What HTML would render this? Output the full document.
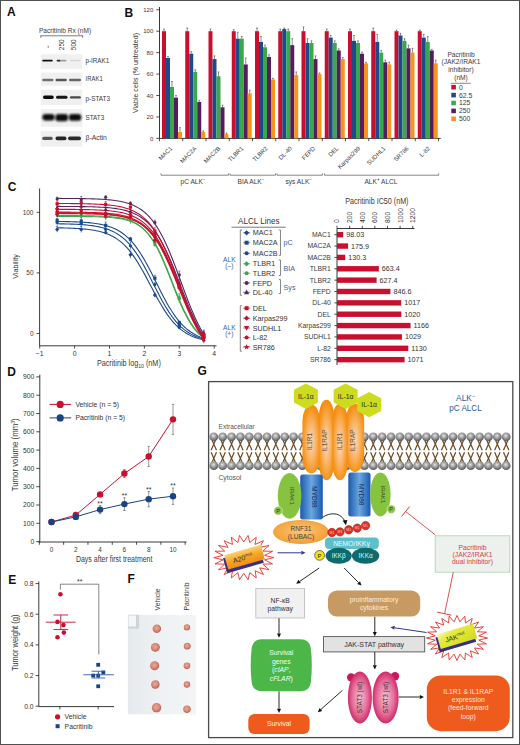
<!DOCTYPE html>
<html><head><meta charset="utf-8"><style>
html,body{margin:0;padding:0;background:#fff;}
svg{display:block;font-family:"Liberation Sans", sans-serif;}
</style></head><body>
<svg width="520" height="745" viewBox="0 0 520 745">
<defs>
<filter id="blur05" x="-20%" y="-20%" width="140%" height="140%"><feGaussianBlur stdDeviation="0.5"/></filter>
<filter id="blur10" x="-30%" y="-60%" width="160%" height="220%"><feGaussianBlur stdDeviation="0.9"/></filter>
<filter id="blur06" x="-50%" y="-100%" width="200%" height="300%"><feGaussianBlur stdDeviation="0.7"/></filter>
<radialGradient id="head" cx="45%" cy="38%" r="62%"><stop offset="0" stop-color="#e4e4e4"/><stop offset="0.45" stop-color="#a0a0a0"/><stop offset="0.85" stop-color="#6a6a6a"/><stop offset="1" stop-color="#555"/></radialGradient>
<radialGradient id="rec" cx="50%" cy="52%" r="58%" fx="50%" fy="55%"><stop offset="0" stop-color="#fcd9b4"/><stop offset="0.45" stop-color="#f9b46a"/><stop offset="0.8" stop-color="#f5961e"/><stop offset="1" stop-color="#f28a0e"/></radialGradient>
<linearGradient id="myd" x1="0" y1="0" x2="1" y2="0"><stop offset="0" stop-color="#1a5ab0"/><stop offset="0.5" stop-color="#6aa6e0"/><stop offset="1" stop-color="#1a5ab0"/></linearGradient>
<radialGradient id="rnf" cx="50%" cy="45%" r="60%"><stop offset="0" stop-color="#fbc77a"/><stop offset="1" stop-color="#f19a2c"/></radialGradient>
<radialGradient id="stat" cx="50%" cy="50%" r="55%"><stop offset="0" stop-color="#f7c2d4"/><stop offset="0.6" stop-color="#e56b98"/><stop offset="1" stop-color="#c8185a"/></radialGradient>
<linearGradient id="a20g" x1="0" y1="0" x2="0" y2="1"><stop offset="0" stop-color="#fbd27a"/><stop offset="0.5" stop-color="#f6a623"/><stop offset="1" stop-color="#ef8f1a"/></linearGradient>
<linearGradient id="jakg" x1="0" y1="0" x2="1" y2="1"><stop offset="0" stop-color="#f6f6d0"/><stop offset="0.3" stop-color="#e6ea3a"/><stop offset="1" stop-color="#d2da20"/></linearGradient>
<linearGradient id="photo" x1="0" y1="0" x2="1" y2="0"><stop offset="0" stop-color="#e6eaec"/><stop offset="0.5" stop-color="#eef2f4"/><stop offset="1" stop-color="#f3f5f6"/></linearGradient>
<radialGradient id="tum" cx="45%" cy="42%" r="60%"><stop offset="0" stop-color="#eaa898"/><stop offset="0.55" stop-color="#d88a7a"/><stop offset="0.85" stop-color="#c0685a"/><stop offset="1" stop-color="#d8b0a8"/></radialGradient>
</defs>
<rect x="0" y="0" width="520" height="745" fill="#fff"/>
<text x="7.00" y="15.90" font-size="12" text-anchor="start" fill="#111" font-weight="bold">A</text>
<text x="38.90" y="33.00" font-size="6.7" text-anchor="start" fill="#3a3a3a" textLength="52.2" lengthAdjust="spacingAndGlyphs">Pacritinib Rx (nM)</text>
<line x1="40.80" y1="35.80" x2="82.70" y2="35.80" stroke="#444" stroke-width="0.7"/>
<line x1="40.80" y1="35.40" x2="40.80" y2="37.80" stroke="#444" stroke-width="0.7"/>
<line x1="82.70" y1="35.40" x2="82.70" y2="37.80" stroke="#444" stroke-width="0.7"/>
<line x1="48.20" y1="45.80" x2="48.20" y2="47.80" stroke="#555" stroke-width="0.8"/>
<text x="64.40" y="44.80" font-size="6.4" text-anchor="middle" fill="#3a3a3a" transform="rotate(-90 64.4 44.8)">250</text>
<text x="75.90" y="44.80" font-size="6.4" text-anchor="middle" fill="#3a3a3a" transform="rotate(-90 75.9 44.8)">500</text>
<rect x="40.80" y="54.20" width="41.50" height="14.70" fill="#f0f0f0" filter="url(#blur05)"/>
<text x="85.50" y="63.40" font-size="6.6" text-anchor="start" fill="#3a3a3a" textLength="23.7" lengthAdjust="spacingAndGlyphs">p-IRAK1</text>
<rect x="40.80" y="72.60" width="41.50" height="13.20" fill="#f0f0f0" filter="url(#blur05)"/>
<text x="85.50" y="80.90" font-size="6.6" text-anchor="start" fill="#3a3a3a" textLength="17.2" lengthAdjust="spacingAndGlyphs">IRAK1</text>
<rect x="40.80" y="89.80" width="41.50" height="15.20" fill="#f0f0f0" filter="url(#blur05)"/>
<text x="85.50" y="100.50" font-size="6.6" text-anchor="start" fill="#3a3a3a" textLength="24.5" lengthAdjust="spacingAndGlyphs">p-STAT3</text>
<rect x="40.80" y="109.20" width="41.50" height="17.60" fill="#f0f0f0" filter="url(#blur05)"/>
<text x="85.50" y="119.50" font-size="6.6" text-anchor="start" fill="#3a3a3a" textLength="18.7" lengthAdjust="spacingAndGlyphs">STAT3</text>
<rect x="40.80" y="131.00" width="41.50" height="15.60" fill="#f0f0f0" filter="url(#blur05)"/>
<text x="85.50" y="139.80" font-size="6.6" text-anchor="start" fill="#3a3a3a" textLength="21.4" lengthAdjust="spacingAndGlyphs">&#946;-Actin</text>
<rect x="42.20" y="59.65" width="10.60" height="1.90" rx="0.95" fill="rgb(16,16,16)" filter="url(#blur06)"/>
<rect x="56.60" y="59.70" width="4.40" height="1.80" rx="0.90" fill="rgb(44,44,44)" filter="url(#blur06)"/>
<rect x="60.00" y="59.80" width="6.60" height="1.60" rx="0.80" fill="rgb(158,158,158)" filter="url(#blur06)"/>
<rect x="69.90" y="59.85" width="10.60" height="1.50" rx="0.75" fill="rgb(215,215,215)" filter="url(#blur06)"/>
<rect x="42.20" y="78.80" width="11.20" height="2.40" rx="1.20" fill="rgb(112,112,112)" filter="url(#blur06)"/>
<rect x="55.50" y="78.75" width="11.30" height="2.50" rx="1.25" fill="rgb(87,87,87)" filter="url(#blur06)"/>
<rect x="69.00" y="78.80" width="12.00" height="2.40" rx="1.20" fill="rgb(101,101,101)" filter="url(#blur06)"/>
<rect x="43.00" y="95.50" width="10.70" height="3.40" rx="1.70" fill="rgb(10,10,10)" filter="url(#blur06)"/>
<rect x="56.00" y="95.70" width="11.50" height="3.00" rx="1.50" fill="rgb(21,21,21)" filter="url(#blur06)"/>
<rect x="69.90" y="96.20" width="11.00" height="2.40" rx="1.20" fill="rgb(73,73,73)" filter="url(#blur06)"/>
<rect x="42.40" y="113.90" width="12.20" height="6.60" rx="3.00" fill="rgb(10,10,10)" filter="url(#blur10)"/>
<rect x="55.40" y="113.90" width="12.60" height="7.40" rx="3.00" fill="rgb(10,10,10)" filter="url(#blur10)"/>
<rect x="68.80" y="113.90" width="12.50" height="6.80" rx="3.00" fill="rgb(10,10,10)" filter="url(#blur10)"/>
<rect x="42.20" y="136.70" width="10.60" height="3.40" rx="1.70" fill="rgb(87,87,87)" filter="url(#blur06)"/>
<rect x="55.50" y="136.60" width="11.00" height="3.60" rx="1.80" fill="rgb(37,37,37)" filter="url(#blur06)"/>
<rect x="68.00" y="136.60" width="13.00" height="3.60" rx="1.80" fill="rgb(44,44,44)" filter="url(#blur06)"/>
<text x="124.40" y="17.20" font-size="12" text-anchor="start" fill="#111" font-weight="bold">B</text>
<line x1="159.50" y1="7.00" x2="159.50" y2="138.40" stroke="#222" stroke-width="0.9"/>
<line x1="156.30" y1="138.40" x2="159.50" y2="138.40" stroke="#222" stroke-width="0.8"/>
<text x="153.30" y="140.50" font-size="6.0" text-anchor="end" fill="#3a3a3a">0</text>
<line x1="156.30" y1="116.96" x2="159.50" y2="116.96" stroke="#222" stroke-width="0.8"/>
<text x="153.30" y="119.06" font-size="6.0" text-anchor="end" fill="#3a3a3a">20</text>
<line x1="156.30" y1="95.52" x2="159.50" y2="95.52" stroke="#222" stroke-width="0.8"/>
<text x="153.30" y="97.62" font-size="6.0" text-anchor="end" fill="#3a3a3a">40</text>
<line x1="156.30" y1="74.08" x2="159.50" y2="74.08" stroke="#222" stroke-width="0.8"/>
<text x="153.30" y="76.18" font-size="6.0" text-anchor="end" fill="#3a3a3a">60</text>
<line x1="156.30" y1="52.64" x2="159.50" y2="52.64" stroke="#222" stroke-width="0.8"/>
<text x="153.30" y="54.74" font-size="6.0" text-anchor="end" fill="#3a3a3a">80</text>
<line x1="156.30" y1="31.20" x2="159.50" y2="31.20" stroke="#222" stroke-width="0.8"/>
<text x="153.30" y="33.30" font-size="6.0" text-anchor="end" fill="#3a3a3a">100</text>
<line x1="156.30" y1="9.76" x2="159.50" y2="9.76" stroke="#222" stroke-width="0.8"/>
<text x="153.30" y="11.86" font-size="6.0" text-anchor="end" fill="#3a3a3a">120</text>
<line x1="159.50" y1="138.40" x2="440.70" y2="138.40" stroke="#222" stroke-width="0.9"/>
<line x1="159.50" y1="138.40" x2="159.50" y2="141.20" stroke="#222" stroke-width="0.8"/>
<line x1="182.75" y1="138.40" x2="182.75" y2="141.20" stroke="#222" stroke-width="0.8"/>
<line x1="206.00" y1="138.40" x2="206.00" y2="141.20" stroke="#222" stroke-width="0.8"/>
<line x1="229.25" y1="138.40" x2="229.25" y2="141.20" stroke="#222" stroke-width="0.8"/>
<line x1="252.50" y1="138.40" x2="252.50" y2="141.20" stroke="#222" stroke-width="0.8"/>
<line x1="275.75" y1="138.40" x2="275.75" y2="141.20" stroke="#222" stroke-width="0.8"/>
<line x1="299.00" y1="138.40" x2="299.00" y2="141.20" stroke="#222" stroke-width="0.8"/>
<line x1="322.25" y1="138.40" x2="322.25" y2="141.20" stroke="#222" stroke-width="0.8"/>
<line x1="345.50" y1="138.40" x2="345.50" y2="141.20" stroke="#222" stroke-width="0.8"/>
<line x1="368.75" y1="138.40" x2="368.75" y2="141.20" stroke="#222" stroke-width="0.8"/>
<line x1="392.00" y1="138.40" x2="392.00" y2="141.20" stroke="#222" stroke-width="0.8"/>
<line x1="415.25" y1="138.40" x2="415.25" y2="141.20" stroke="#222" stroke-width="0.8"/>
<line x1="438.50" y1="138.40" x2="438.50" y2="141.20" stroke="#222" stroke-width="0.8"/>
<text x="137.80" y="73.00" font-size="7.2" text-anchor="middle" fill="#333" transform="rotate(-90 137.8 73)" textLength="80" lengthAdjust="spacingAndGlyphs">Viable cells (% untreated)</text>
<rect x="162.00" y="31.20" width="4.00" height="107.20" fill="#c8102e"/>
<line x1="164.00" y1="31.20" x2="164.00" y2="29.06" stroke="#444" stroke-width="0.6"/>
<line x1="163.10" y1="29.06" x2="164.90" y2="29.06" stroke="#444" stroke-width="0.6"/>
<rect x="166.00" y="58.00" width="4.00" height="80.40" fill="#1c4b8c"/>
<line x1="168.00" y1="58.00" x2="168.00" y2="56.39" stroke="#444" stroke-width="0.6"/>
<line x1="167.10" y1="56.39" x2="168.90" y2="56.39" stroke="#444" stroke-width="0.6"/>
<rect x="170.00" y="86.94" width="4.00" height="51.46" fill="#3aa84a"/>
<line x1="172.00" y1="86.94" x2="172.00" y2="81.58" stroke="#444" stroke-width="0.6"/>
<line x1="171.10" y1="81.58" x2="172.90" y2="81.58" stroke="#444" stroke-width="0.6"/>
<rect x="174.00" y="97.66" width="4.00" height="40.74" fill="#561c5e"/>
<line x1="176.00" y1="97.66" x2="176.00" y2="95.52" stroke="#444" stroke-width="0.6"/>
<line x1="175.10" y1="95.52" x2="176.90" y2="95.52" stroke="#444" stroke-width="0.6"/>
<rect x="178.00" y="131.97" width="4.00" height="6.43" fill="#f7941d"/>
<line x1="180.00" y1="131.97" x2="180.00" y2="127.68" stroke="#444" stroke-width="0.6"/>
<line x1="179.10" y1="127.68" x2="180.90" y2="127.68" stroke="#444" stroke-width="0.6"/>
<text x="172.80" y="148.80" font-size="6.0" text-anchor="end" fill="#3a3a3a" transform="rotate(-45 172.8 148.8)">MAC1</text>
<rect x="185.25" y="31.20" width="4.00" height="107.20" fill="#c8102e"/>
<line x1="187.25" y1="31.20" x2="187.25" y2="27.98" stroke="#444" stroke-width="0.6"/>
<line x1="186.35" y1="27.98" x2="188.15" y2="27.98" stroke="#444" stroke-width="0.6"/>
<rect x="189.25" y="53.71" width="4.00" height="84.69" fill="#1c4b8c"/>
<line x1="191.25" y1="53.71" x2="191.25" y2="51.57" stroke="#444" stroke-width="0.6"/>
<line x1="190.35" y1="51.57" x2="192.15" y2="51.57" stroke="#444" stroke-width="0.6"/>
<rect x="193.25" y="71.94" width="4.00" height="66.46" fill="#3aa84a"/>
<line x1="195.25" y1="71.94" x2="195.25" y2="69.79" stroke="#444" stroke-width="0.6"/>
<line x1="194.35" y1="69.79" x2="196.15" y2="69.79" stroke="#444" stroke-width="0.6"/>
<rect x="197.25" y="101.95" width="4.00" height="36.45" fill="#561c5e"/>
<line x1="199.25" y1="101.95" x2="199.25" y2="100.34" stroke="#444" stroke-width="0.6"/>
<line x1="198.35" y1="100.34" x2="200.15" y2="100.34" stroke="#444" stroke-width="0.6"/>
<rect x="201.25" y="131.97" width="4.00" height="6.43" fill="#f7941d"/>
<line x1="203.25" y1="131.97" x2="203.25" y2="130.90" stroke="#444" stroke-width="0.6"/>
<line x1="202.35" y1="130.90" x2="204.15" y2="130.90" stroke="#444" stroke-width="0.6"/>
<text x="197.05" y="148.80" font-size="6.0" text-anchor="end" fill="#3a3a3a" transform="rotate(-45 197.05 148.8)">MAC2A</text>
<rect x="208.50" y="31.20" width="4.00" height="107.20" fill="#c8102e"/>
<line x1="210.50" y1="31.20" x2="210.50" y2="29.06" stroke="#444" stroke-width="0.6"/>
<line x1="209.60" y1="29.06" x2="211.40" y2="29.06" stroke="#444" stroke-width="0.6"/>
<rect x="212.50" y="59.07" width="4.00" height="79.33" fill="#1c4b8c"/>
<line x1="214.50" y1="59.07" x2="214.50" y2="55.86" stroke="#444" stroke-width="0.6"/>
<line x1="213.60" y1="55.86" x2="215.40" y2="55.86" stroke="#444" stroke-width="0.6"/>
<rect x="216.50" y="76.22" width="4.00" height="62.18" fill="#3aa84a"/>
<line x1="218.50" y1="76.22" x2="218.50" y2="71.94" stroke="#444" stroke-width="0.6"/>
<line x1="217.60" y1="71.94" x2="219.40" y2="71.94" stroke="#444" stroke-width="0.6"/>
<rect x="220.50" y="107.31" width="4.00" height="31.09" fill="#561c5e"/>
<line x1="222.50" y1="107.31" x2="222.50" y2="105.17" stroke="#444" stroke-width="0.6"/>
<line x1="221.60" y1="105.17" x2="223.40" y2="105.17" stroke="#444" stroke-width="0.6"/>
<rect x="224.50" y="134.11" width="4.00" height="4.29" fill="#f7941d"/>
<line x1="226.50" y1="134.11" x2="226.50" y2="133.04" stroke="#444" stroke-width="0.6"/>
<line x1="225.60" y1="133.04" x2="227.40" y2="133.04" stroke="#444" stroke-width="0.6"/>
<text x="220.80" y="148.80" font-size="6.0" text-anchor="end" fill="#3a3a3a" transform="rotate(-45 220.8 148.8)">MAC2B</text>
<rect x="231.75" y="31.20" width="4.00" height="107.20" fill="#c8102e"/>
<line x1="233.75" y1="31.20" x2="233.75" y2="29.59" stroke="#444" stroke-width="0.6"/>
<line x1="232.85" y1="29.59" x2="234.65" y2="29.59" stroke="#444" stroke-width="0.6"/>
<rect x="235.75" y="38.70" width="4.00" height="99.70" fill="#1c4b8c"/>
<line x1="237.75" y1="38.70" x2="237.75" y2="32.27" stroke="#444" stroke-width="0.6"/>
<line x1="236.85" y1="32.27" x2="238.65" y2="32.27" stroke="#444" stroke-width="0.6"/>
<rect x="239.75" y="38.70" width="4.00" height="99.70" fill="#3aa84a"/>
<line x1="241.75" y1="38.70" x2="241.75" y2="36.56" stroke="#444" stroke-width="0.6"/>
<line x1="240.85" y1="36.56" x2="242.65" y2="36.56" stroke="#444" stroke-width="0.6"/>
<rect x="243.75" y="64.43" width="4.00" height="73.97" fill="#561c5e"/>
<line x1="245.75" y1="64.43" x2="245.75" y2="58.00" stroke="#444" stroke-width="0.6"/>
<line x1="244.85" y1="58.00" x2="246.65" y2="58.00" stroke="#444" stroke-width="0.6"/>
<rect x="247.75" y="93.38" width="4.00" height="45.02" fill="#f7941d"/>
<line x1="249.75" y1="93.38" x2="249.75" y2="90.16" stroke="#444" stroke-width="0.6"/>
<line x1="248.85" y1="90.16" x2="250.65" y2="90.16" stroke="#444" stroke-width="0.6"/>
<text x="243.75" y="148.80" font-size="6.0" text-anchor="end" fill="#3a3a3a" transform="rotate(-45 243.75 148.8)">TLBR1</text>
<rect x="255.00" y="31.20" width="4.00" height="107.20" fill="#c8102e"/>
<line x1="257.00" y1="31.20" x2="257.00" y2="27.98" stroke="#444" stroke-width="0.6"/>
<line x1="256.10" y1="27.98" x2="257.90" y2="27.98" stroke="#444" stroke-width="0.6"/>
<rect x="259.00" y="41.92" width="4.00" height="96.48" fill="#1c4b8c"/>
<line x1="261.00" y1="41.92" x2="261.00" y2="36.56" stroke="#444" stroke-width="0.6"/>
<line x1="260.10" y1="36.56" x2="261.90" y2="36.56" stroke="#444" stroke-width="0.6"/>
<rect x="263.00" y="47.28" width="4.00" height="91.12" fill="#3aa84a"/>
<line x1="265.00" y1="47.28" x2="265.00" y2="45.14" stroke="#444" stroke-width="0.6"/>
<line x1="264.10" y1="45.14" x2="265.90" y2="45.14" stroke="#444" stroke-width="0.6"/>
<rect x="267.00" y="56.93" width="4.00" height="81.47" fill="#561c5e"/>
<line x1="269.00" y1="56.93" x2="269.00" y2="54.78" stroke="#444" stroke-width="0.6"/>
<line x1="268.10" y1="54.78" x2="269.90" y2="54.78" stroke="#444" stroke-width="0.6"/>
<rect x="271.00" y="79.44" width="4.00" height="58.96" fill="#f7941d"/>
<line x1="273.00" y1="79.44" x2="273.00" y2="78.37" stroke="#444" stroke-width="0.6"/>
<line x1="272.10" y1="78.37" x2="273.90" y2="78.37" stroke="#444" stroke-width="0.6"/>
<text x="268.10" y="148.80" font-size="6.0" text-anchor="end" fill="#3a3a3a" transform="rotate(-45 268.1 148.8)">TLBR2</text>
<rect x="278.25" y="31.20" width="4.00" height="107.20" fill="#c8102e"/>
<line x1="280.25" y1="31.20" x2="280.25" y2="29.06" stroke="#444" stroke-width="0.6"/>
<line x1="279.35" y1="29.06" x2="281.15" y2="29.06" stroke="#444" stroke-width="0.6"/>
<rect x="282.25" y="29.06" width="4.00" height="109.34" fill="#1c4b8c"/>
<line x1="284.25" y1="29.06" x2="284.25" y2="27.98" stroke="#444" stroke-width="0.6"/>
<line x1="283.35" y1="27.98" x2="285.15" y2="27.98" stroke="#444" stroke-width="0.6"/>
<rect x="286.25" y="31.20" width="4.00" height="107.20" fill="#3aa84a"/>
<line x1="288.25" y1="31.20" x2="288.25" y2="29.06" stroke="#444" stroke-width="0.6"/>
<line x1="287.35" y1="29.06" x2="289.15" y2="29.06" stroke="#444" stroke-width="0.6"/>
<rect x="290.25" y="45.14" width="4.00" height="93.26" fill="#561c5e"/>
<line x1="292.25" y1="45.14" x2="292.25" y2="38.70" stroke="#444" stroke-width="0.6"/>
<line x1="291.35" y1="38.70" x2="293.15" y2="38.70" stroke="#444" stroke-width="0.6"/>
<rect x="294.25" y="75.15" width="4.00" height="63.25" fill="#f7941d"/>
<line x1="296.25" y1="75.15" x2="296.25" y2="71.94" stroke="#444" stroke-width="0.6"/>
<line x1="295.35" y1="71.94" x2="297.15" y2="71.94" stroke="#444" stroke-width="0.6"/>
<text x="292.45" y="148.80" font-size="6.0" text-anchor="end" fill="#3a3a3a" transform="rotate(-45 292.45 148.8)">DL-40</text>
<rect x="301.50" y="31.20" width="4.00" height="107.20" fill="#c8102e"/>
<line x1="303.50" y1="31.20" x2="303.50" y2="26.91" stroke="#444" stroke-width="0.6"/>
<line x1="302.60" y1="26.91" x2="304.40" y2="26.91" stroke="#444" stroke-width="0.6"/>
<rect x="305.50" y="42.99" width="4.00" height="95.41" fill="#1c4b8c"/>
<line x1="307.50" y1="42.99" x2="307.50" y2="38.70" stroke="#444" stroke-width="0.6"/>
<line x1="306.60" y1="38.70" x2="308.40" y2="38.70" stroke="#444" stroke-width="0.6"/>
<rect x="309.50" y="42.99" width="4.00" height="95.41" fill="#3aa84a"/>
<line x1="311.50" y1="42.99" x2="311.50" y2="40.85" stroke="#444" stroke-width="0.6"/>
<line x1="310.60" y1="40.85" x2="312.40" y2="40.85" stroke="#444" stroke-width="0.6"/>
<rect x="313.50" y="59.07" width="4.00" height="79.33" fill="#561c5e"/>
<line x1="315.50" y1="59.07" x2="315.50" y2="55.86" stroke="#444" stroke-width="0.6"/>
<line x1="314.60" y1="55.86" x2="316.40" y2="55.86" stroke="#444" stroke-width="0.6"/>
<rect x="317.50" y="74.08" width="4.00" height="64.32" fill="#f7941d"/>
<line x1="319.50" y1="74.08" x2="319.50" y2="73.01" stroke="#444" stroke-width="0.6"/>
<line x1="318.60" y1="73.01" x2="320.40" y2="73.01" stroke="#444" stroke-width="0.6"/>
<text x="315.70" y="148.80" font-size="6.0" text-anchor="end" fill="#3a3a3a" transform="rotate(-45 315.7 148.8)">FEPD</text>
<rect x="324.75" y="31.20" width="4.00" height="107.20" fill="#c8102e"/>
<line x1="326.75" y1="31.20" x2="326.75" y2="29.06" stroke="#444" stroke-width="0.6"/>
<line x1="325.85" y1="29.06" x2="327.65" y2="29.06" stroke="#444" stroke-width="0.6"/>
<rect x="328.75" y="37.63" width="4.00" height="100.77" fill="#1c4b8c"/>
<line x1="330.75" y1="37.63" x2="330.75" y2="35.49" stroke="#444" stroke-width="0.6"/>
<line x1="329.85" y1="35.49" x2="331.65" y2="35.49" stroke="#444" stroke-width="0.6"/>
<rect x="332.75" y="42.99" width="4.00" height="95.41" fill="#3aa84a"/>
<line x1="334.75" y1="42.99" x2="334.75" y2="40.85" stroke="#444" stroke-width="0.6"/>
<line x1="333.85" y1="40.85" x2="335.65" y2="40.85" stroke="#444" stroke-width="0.6"/>
<rect x="336.75" y="50.50" width="4.00" height="87.90" fill="#561c5e"/>
<line x1="338.75" y1="50.50" x2="338.75" y2="48.89" stroke="#444" stroke-width="0.6"/>
<line x1="337.85" y1="48.89" x2="339.65" y2="48.89" stroke="#444" stroke-width="0.6"/>
<rect x="340.75" y="59.07" width="4.00" height="79.33" fill="#f7941d"/>
<line x1="342.75" y1="59.07" x2="342.75" y2="57.46" stroke="#444" stroke-width="0.6"/>
<line x1="341.85" y1="57.46" x2="343.65" y2="57.46" stroke="#444" stroke-width="0.6"/>
<text x="338.95" y="148.80" font-size="6.0" text-anchor="end" fill="#3a3a3a" transform="rotate(-45 338.95 148.8)">DEL</text>
<rect x="348.00" y="31.20" width="4.00" height="107.20" fill="#c8102e"/>
<line x1="350.00" y1="31.20" x2="350.00" y2="29.06" stroke="#444" stroke-width="0.6"/>
<line x1="349.10" y1="29.06" x2="350.90" y2="29.06" stroke="#444" stroke-width="0.6"/>
<rect x="352.00" y="40.85" width="4.00" height="97.55" fill="#1c4b8c"/>
<line x1="354.00" y1="40.85" x2="354.00" y2="35.49" stroke="#444" stroke-width="0.6"/>
<line x1="353.10" y1="35.49" x2="354.90" y2="35.49" stroke="#444" stroke-width="0.6"/>
<rect x="356.00" y="42.99" width="4.00" height="95.41" fill="#3aa84a"/>
<line x1="358.00" y1="42.99" x2="358.00" y2="40.85" stroke="#444" stroke-width="0.6"/>
<line x1="357.10" y1="40.85" x2="358.90" y2="40.85" stroke="#444" stroke-width="0.6"/>
<rect x="360.00" y="53.71" width="4.00" height="84.69" fill="#561c5e"/>
<line x1="362.00" y1="53.71" x2="362.00" y2="52.10" stroke="#444" stroke-width="0.6"/>
<line x1="361.10" y1="52.10" x2="362.90" y2="52.10" stroke="#444" stroke-width="0.6"/>
<rect x="364.00" y="63.36" width="4.00" height="75.04" fill="#f7941d"/>
<line x1="366.00" y1="63.36" x2="366.00" y2="62.29" stroke="#444" stroke-width="0.6"/>
<line x1="365.10" y1="62.29" x2="366.90" y2="62.29" stroke="#444" stroke-width="0.6"/>
<text x="360.70" y="148.80" font-size="6.0" text-anchor="end" fill="#3a3a3a" transform="rotate(-45 360.7 148.8)">Karpas299</text>
<rect x="371.25" y="31.20" width="4.00" height="107.20" fill="#c8102e"/>
<line x1="373.25" y1="31.20" x2="373.25" y2="27.98" stroke="#444" stroke-width="0.6"/>
<line x1="372.35" y1="27.98" x2="374.15" y2="27.98" stroke="#444" stroke-width="0.6"/>
<rect x="375.25" y="41.92" width="4.00" height="96.48" fill="#1c4b8c"/>
<line x1="377.25" y1="41.92" x2="377.25" y2="34.42" stroke="#444" stroke-width="0.6"/>
<line x1="376.35" y1="34.42" x2="378.15" y2="34.42" stroke="#444" stroke-width="0.6"/>
<rect x="379.25" y="52.64" width="4.00" height="85.76" fill="#3aa84a"/>
<line x1="381.25" y1="52.64" x2="381.25" y2="50.50" stroke="#444" stroke-width="0.6"/>
<line x1="380.35" y1="50.50" x2="382.15" y2="50.50" stroke="#444" stroke-width="0.6"/>
<rect x="383.25" y="62.29" width="4.00" height="76.11" fill="#561c5e"/>
<line x1="385.25" y1="62.29" x2="385.25" y2="60.14" stroke="#444" stroke-width="0.6"/>
<line x1="384.35" y1="60.14" x2="386.15" y2="60.14" stroke="#444" stroke-width="0.6"/>
<rect x="387.25" y="64.43" width="4.00" height="73.97" fill="#f7941d"/>
<line x1="389.25" y1="64.43" x2="389.25" y2="62.29" stroke="#444" stroke-width="0.6"/>
<line x1="388.35" y1="62.29" x2="390.15" y2="62.29" stroke="#444" stroke-width="0.6"/>
<text x="385.95" y="148.80" font-size="6.0" text-anchor="end" fill="#3a3a3a" transform="rotate(-45 385.95 148.8)">SUDHL1</text>
<rect x="394.50" y="31.20" width="4.00" height="107.20" fill="#c8102e"/>
<line x1="396.50" y1="31.20" x2="396.50" y2="30.13" stroke="#444" stroke-width="0.6"/>
<line x1="395.60" y1="30.13" x2="397.40" y2="30.13" stroke="#444" stroke-width="0.6"/>
<rect x="398.50" y="35.49" width="4.00" height="102.91" fill="#1c4b8c"/>
<line x1="400.50" y1="35.49" x2="400.50" y2="33.34" stroke="#444" stroke-width="0.6"/>
<line x1="399.60" y1="33.34" x2="401.40" y2="33.34" stroke="#444" stroke-width="0.6"/>
<rect x="402.50" y="40.85" width="4.00" height="97.55" fill="#3aa84a"/>
<line x1="404.50" y1="40.85" x2="404.50" y2="38.70" stroke="#444" stroke-width="0.6"/>
<line x1="403.60" y1="38.70" x2="405.40" y2="38.70" stroke="#444" stroke-width="0.6"/>
<rect x="406.50" y="48.35" width="4.00" height="90.05" fill="#561c5e"/>
<line x1="408.50" y1="48.35" x2="408.50" y2="45.14" stroke="#444" stroke-width="0.6"/>
<line x1="407.60" y1="45.14" x2="409.40" y2="45.14" stroke="#444" stroke-width="0.6"/>
<rect x="410.50" y="52.64" width="4.00" height="85.76" fill="#f7941d"/>
<line x1="412.50" y1="52.64" x2="412.50" y2="48.35" stroke="#444" stroke-width="0.6"/>
<line x1="411.60" y1="48.35" x2="413.40" y2="48.35" stroke="#444" stroke-width="0.6"/>
<text x="409.20" y="148.80" font-size="6.0" text-anchor="end" fill="#3a3a3a" transform="rotate(-45 409.2 148.8)">SR786</text>
<rect x="417.75" y="31.20" width="4.00" height="107.20" fill="#c8102e"/>
<line x1="419.75" y1="31.20" x2="419.75" y2="30.13" stroke="#444" stroke-width="0.6"/>
<line x1="418.85" y1="30.13" x2="420.65" y2="30.13" stroke="#444" stroke-width="0.6"/>
<rect x="421.75" y="37.63" width="4.00" height="100.77" fill="#1c4b8c"/>
<line x1="423.75" y1="37.63" x2="423.75" y2="34.42" stroke="#444" stroke-width="0.6"/>
<line x1="422.85" y1="34.42" x2="424.65" y2="34.42" stroke="#444" stroke-width="0.6"/>
<rect x="425.75" y="41.92" width="4.00" height="96.48" fill="#3aa84a"/>
<line x1="427.75" y1="41.92" x2="427.75" y2="36.56" stroke="#444" stroke-width="0.6"/>
<line x1="426.85" y1="36.56" x2="428.65" y2="36.56" stroke="#444" stroke-width="0.6"/>
<rect x="429.75" y="50.50" width="4.00" height="87.90" fill="#561c5e"/>
<line x1="431.75" y1="50.50" x2="431.75" y2="49.42" stroke="#444" stroke-width="0.6"/>
<line x1="430.85" y1="49.42" x2="432.65" y2="49.42" stroke="#444" stroke-width="0.6"/>
<rect x="433.75" y="63.36" width="4.00" height="75.04" fill="#f7941d"/>
<line x1="435.75" y1="63.36" x2="435.75" y2="60.14" stroke="#444" stroke-width="0.6"/>
<line x1="434.85" y1="60.14" x2="436.65" y2="60.14" stroke="#444" stroke-width="0.6"/>
<text x="430.45" y="148.80" font-size="6.0" text-anchor="end" fill="#3a3a3a" transform="rotate(-45 430.45 148.8)">L-82</text>
<line x1="161.00" y1="175.20" x2="228.50" y2="175.20" stroke="#555" stroke-width="0.7"/>
<line x1="161.00" y1="173.40" x2="161.00" y2="175.20" stroke="#555" stroke-width="0.7"/>
<line x1="228.50" y1="173.40" x2="228.50" y2="175.20" stroke="#555" stroke-width="0.7"/>
<text x="193.00" y="184.40" font-size="6.6" text-anchor="middle" fill="#3a3a3a">pC ALK<tspan font-size="4.5" dy="-3">&#8722;</tspan></text>
<line x1="230.00" y1="175.20" x2="275.50" y2="175.20" stroke="#555" stroke-width="0.7"/>
<line x1="230.00" y1="173.40" x2="230.00" y2="175.20" stroke="#555" stroke-width="0.7"/>
<line x1="275.50" y1="173.40" x2="275.50" y2="175.20" stroke="#555" stroke-width="0.7"/>
<text x="251.00" y="184.40" font-size="6.6" text-anchor="middle" fill="#3a3a3a">BIA ALK<tspan font-size="4.5" dy="-3">&#8722;</tspan></text>
<line x1="277.00" y1="175.20" x2="322.40" y2="175.20" stroke="#555" stroke-width="0.7"/>
<line x1="277.00" y1="173.40" x2="277.00" y2="175.20" stroke="#555" stroke-width="0.7"/>
<line x1="322.40" y1="173.40" x2="322.40" y2="175.20" stroke="#555" stroke-width="0.7"/>
<text x="298.70" y="184.40" font-size="6.6" text-anchor="middle" fill="#3a3a3a">sys ALK<tspan font-size="4.5" dy="-3">&#8722;</tspan></text>
<line x1="324.50" y1="175.20" x2="438.70" y2="175.20" stroke="#555" stroke-width="0.7"/>
<line x1="324.50" y1="173.40" x2="324.50" y2="175.20" stroke="#555" stroke-width="0.7"/>
<line x1="438.70" y1="173.40" x2="438.70" y2="175.20" stroke="#555" stroke-width="0.7"/>
<text x="381.00" y="184.40" font-size="6.6" text-anchor="middle" fill="#3a3a3a">ALK<tspan font-size="4.5" dy="-3">+</tspan><tspan dy="3"> ALCL</tspan></text>
<text x="461.00" y="56.90" font-size="6.6" text-anchor="middle" fill="#3a3a3a">Pacritinib</text>
<text x="461.00" y="64.45" font-size="6.6" text-anchor="middle" fill="#3a3a3a">(JAK2/IRAK1</text>
<text x="461.00" y="72.00" font-size="6.6" text-anchor="middle" fill="#3a3a3a">inhibitor)</text>
<text x="461.00" y="79.55" font-size="6.6" text-anchor="middle" fill="#3a3a3a">(nM)</text>
<line x1="450.90" y1="83.30" x2="470.70" y2="83.30" stroke="#333" stroke-width="0.6"/>
<rect x="451.30" y="84.90" width="4.60" height="4.60" fill="#c8102e"/>
<text x="459.00" y="89.60" font-size="6.8" text-anchor="start" fill="#3a3a3a">0</text>
<rect x="451.30" y="92.80" width="4.60" height="4.60" fill="#1c4b8c"/>
<text x="459.00" y="97.50" font-size="6.8" text-anchor="start" fill="#3a3a3a">62.5</text>
<rect x="451.30" y="100.70" width="4.60" height="4.60" fill="#3aa84a"/>
<text x="459.00" y="105.40" font-size="6.8" text-anchor="start" fill="#3a3a3a">125</text>
<rect x="451.30" y="108.60" width="4.60" height="4.60" fill="#561c5e"/>
<text x="459.00" y="113.30" font-size="6.8" text-anchor="start" fill="#3a3a3a">250</text>
<rect x="451.30" y="116.50" width="4.60" height="4.60" fill="#f7941d"/>
<text x="459.00" y="121.20" font-size="6.8" text-anchor="start" fill="#3a3a3a">500</text>
<text x="7.80" y="190.60" font-size="12" text-anchor="start" fill="#111" font-weight="bold">C</text>
<line x1="39.60" y1="188.50" x2="39.60" y2="345.80" stroke="#222" stroke-width="0.9"/>
<line x1="39.60" y1="345.80" x2="216.50" y2="345.80" stroke="#222" stroke-width="0.9"/>
<line x1="36.60" y1="333.50" x2="39.60" y2="333.50" stroke="#222" stroke-width="0.8"/>
<text x="33.50" y="335.80" font-size="6.5" text-anchor="end" fill="#3a3a3a">0</text>
<line x1="36.60" y1="272.90" x2="39.60" y2="272.90" stroke="#222" stroke-width="0.8"/>
<text x="33.50" y="275.20" font-size="6.5" text-anchor="end" fill="#3a3a3a">50</text>
<line x1="36.60" y1="212.30" x2="39.60" y2="212.30" stroke="#222" stroke-width="0.8"/>
<text x="33.50" y="214.60" font-size="6.5" text-anchor="end" fill="#3a3a3a">100</text>
<line x1="39.70" y1="345.80" x2="39.70" y2="348.60" stroke="#222" stroke-width="0.8"/>
<text x="39.70" y="356.40" font-size="6.8" text-anchor="middle" fill="#333">&#8722;1</text>
<line x1="74.60" y1="345.80" x2="74.60" y2="348.60" stroke="#222" stroke-width="0.8"/>
<text x="74.60" y="356.40" font-size="6.8" text-anchor="middle" fill="#333">0</text>
<line x1="109.50" y1="345.80" x2="109.50" y2="348.60" stroke="#222" stroke-width="0.8"/>
<text x="109.50" y="356.40" font-size="6.8" text-anchor="middle" fill="#333">1</text>
<line x1="144.40" y1="345.80" x2="144.40" y2="348.60" stroke="#222" stroke-width="0.8"/>
<text x="144.40" y="356.40" font-size="6.8" text-anchor="middle" fill="#333">2</text>
<line x1="179.30" y1="345.80" x2="179.30" y2="348.60" stroke="#222" stroke-width="0.8"/>
<text x="179.30" y="356.40" font-size="6.8" text-anchor="middle" fill="#333">3</text>
<line x1="214.20" y1="345.80" x2="214.20" y2="348.60" stroke="#222" stroke-width="0.8"/>
<text x="214.20" y="356.40" font-size="6.8" text-anchor="middle" fill="#333">4</text>
<text x="96.90" y="366.20" font-size="8.4" text-anchor="start" fill="#3a3a3a" textLength="63.9" lengthAdjust="spacingAndGlyphs">Pacritinib log<tspan font-size="6" dy="2.1">10</tspan><tspan dy="-2.1"> (nM)</tspan></text>
<text x="17.50" y="266.50" font-size="7.2" text-anchor="middle" fill="#333" transform="rotate(-90 17.5 266.5)">Viability</text>
<polyline points="57.15,227.82 58.89,227.84 60.64,227.88 62.38,227.92 64.13,227.96 65.88,228.00 67.62,228.06 69.36,228.12 71.11,228.18 72.85,228.26 74.60,228.34 76.34,228.43 78.09,228.54 79.83,228.65 81.58,228.78 83.32,228.93 85.07,229.09 86.81,229.28 88.56,229.48 90.30,229.71 92.05,229.96 93.79,230.25 95.54,230.57 97.28,230.92 99.03,231.32 100.78,231.76 102.52,232.25 104.27,232.79 106.01,233.40 107.75,234.07 109.50,234.81 111.25,235.64 112.99,236.54 114.74,237.55 116.48,238.65 118.23,239.85 119.97,241.18 121.72,242.62 123.46,244.19 125.21,245.90 126.95,247.74 128.70,249.73 130.44,251.87 132.19,254.15 133.93,256.58 135.68,259.16 137.42,261.87 139.17,264.71 140.91,267.67 142.66,270.73 144.40,273.89 146.15,277.12 147.89,280.40 149.63,283.72 151.38,287.05 153.12,290.36 154.87,293.65 156.61,296.88 158.36,300.03 160.10,303.10 161.85,306.06 163.59,308.90 165.34,311.61 167.08,314.18 168.83,316.61 170.57,318.90 172.32,321.03 174.06,323.02 175.81,324.87 177.55,326.58 179.30,328.15 181.04,329.59 182.79,330.91 184.53,332.12 186.28,333.22 188.02,334.22 189.77,335.13 191.51,335.95 193.26,336.70 195.00,337.37 196.75,337.97 198.49,338.52 200.24,339.01 201.98,339.45 203.73,339.84" fill="none" stroke="#1c4b8c" stroke-width="1.1"/>
<polyline points="57.15,221.45 58.89,221.47 60.64,221.49 62.38,221.52 64.13,221.55 65.88,221.59 67.62,221.62 69.36,221.67 71.11,221.71 72.85,221.77 74.60,221.83 76.34,221.90 78.09,221.97 79.83,222.06 81.58,222.16 83.32,222.26 85.07,222.38 86.81,222.52 88.56,222.67 90.30,222.84 92.05,223.03 93.79,223.24 95.54,223.47 97.28,223.74 99.03,224.03 100.78,224.36 102.52,224.73 104.27,225.13 106.01,225.59 107.75,226.09 109.50,226.66 111.25,227.28 112.99,227.98 114.74,228.74 116.48,229.59 118.23,230.53 119.97,231.57 121.72,232.71 123.46,233.96 125.21,235.33 126.95,236.82 128.70,238.45 130.44,240.22 132.19,242.14 133.93,244.21 135.68,246.43 137.42,248.81 139.17,251.34 140.91,254.02 142.66,256.85 144.40,259.82 146.15,262.92 147.89,266.13 149.63,269.44 151.38,272.83 153.12,276.29 154.87,279.78 156.61,283.29 158.36,286.79 160.10,290.26 161.85,293.68 163.59,297.02 165.34,300.28 167.08,303.42 168.83,306.44 170.57,309.33 172.32,312.07 174.06,314.66 175.81,317.10 177.55,319.39 179.30,321.52 181.04,323.49 182.79,325.32 184.53,327.01 186.28,328.56 188.02,329.98 189.77,331.27 191.51,332.45 193.26,333.53 195.00,334.51 196.75,335.39 198.49,336.19 200.24,336.91 201.98,337.57 203.73,338.15" fill="none" stroke="#1c4b8c" stroke-width="1.1"/>
<polyline points="57.15,223.78 58.89,223.81 60.64,223.84 62.38,223.87 64.13,223.91 65.88,223.95 67.62,223.99 69.36,224.05 71.11,224.10 72.85,224.17 74.60,224.24 76.34,224.32 78.09,224.41 79.83,224.51 81.58,224.63 83.32,224.76 85.07,224.90 86.81,225.06 88.56,225.24 90.30,225.44 92.05,225.66 93.79,225.91 95.54,226.19 97.28,226.50 99.03,226.85 100.78,227.24 102.52,227.67 104.27,228.15 106.01,228.69 107.75,229.28 109.50,229.94 111.25,230.67 112.99,231.48 114.74,232.37 116.48,233.36 118.23,234.45 119.97,235.64 121.72,236.95 123.46,238.38 125.21,239.94 126.95,241.63 128.70,243.47 130.44,245.45 132.19,247.59 133.93,249.87 135.68,252.31 137.42,254.90 139.17,257.63 140.91,260.51 142.66,263.51 144.40,266.63 146.15,269.85 147.89,273.16 149.63,276.53 151.38,279.94 153.12,283.38 154.87,286.82 156.61,290.24 158.36,293.61 160.10,296.92 161.85,300.14 163.59,303.26 165.34,306.26 167.08,309.13 168.83,311.87 170.57,314.46 172.32,316.89 174.06,319.18 175.81,321.31 177.55,323.30 179.30,325.14 181.04,326.83 182.79,328.39 184.53,329.82 186.28,331.13 188.02,332.32 189.77,333.41 191.51,334.39 193.26,335.29 195.00,336.10 196.75,336.83 198.49,337.49 200.24,338.08 201.98,338.62 203.73,339.10" fill="none" stroke="#1c4b8c" stroke-width="1.1"/>
<polyline points="57.15,215.59 58.89,215.59 60.64,215.60 62.38,215.60 64.13,215.60 65.88,215.61 67.62,215.61 69.36,215.62 71.11,215.63 72.85,215.63 74.60,215.64 76.34,215.65 78.09,215.66 79.83,215.68 81.58,215.69 83.32,215.71 85.07,215.73 86.81,215.75 88.56,215.78 90.30,215.81 92.05,215.84 93.79,215.88 95.54,215.93 97.28,215.98 99.03,216.04 100.78,216.10 102.52,216.18 104.27,216.27 106.01,216.37 107.75,216.48 109.50,216.62 111.25,216.77 112.99,216.94 114.74,217.13 116.48,217.36 118.23,217.61 119.97,217.91 121.72,218.24 123.46,218.62 125.21,219.05 126.95,219.54 128.70,220.10 130.44,220.73 132.19,221.45 133.93,222.26 135.68,223.18 137.42,224.21 139.17,225.37 140.91,226.68 142.66,228.14 144.40,229.78 146.15,231.60 147.89,233.61 149.63,235.83 151.38,238.28 153.12,240.95 154.87,243.85 156.61,246.99 158.36,250.36 160.10,253.96 161.85,257.76 163.59,261.76 165.34,265.93 167.08,270.23 168.83,274.64 170.57,279.11 172.32,283.61 174.06,288.09 175.81,292.51 177.55,296.84 179.30,301.04 181.04,305.07 182.79,308.92 184.53,312.55 186.28,315.97 188.02,319.16 189.77,322.11 191.51,324.83 193.26,327.31 195.00,329.58 196.75,331.63 198.49,333.49 200.24,335.16 201.98,336.66 203.73,337.99" fill="none" stroke="#3aa84a" stroke-width="1.1"/>
<polyline points="57.15,216.44 58.89,216.44 60.64,216.44 62.38,216.45 64.13,216.45 65.88,216.45 67.62,216.46 69.36,216.46 71.11,216.47 72.85,216.48 74.60,216.49 76.34,216.50 78.09,216.51 79.83,216.52 81.58,216.53 83.32,216.55 85.07,216.57 86.81,216.59 88.56,216.61 90.30,216.64 92.05,216.67 93.79,216.71 95.54,216.75 97.28,216.80 99.03,216.86 100.78,216.92 102.52,216.99 104.27,217.08 106.01,217.17 107.75,217.28 109.50,217.40 111.25,217.54 112.99,217.71 114.74,217.89 116.48,218.10 118.23,218.34 119.97,218.62 121.72,218.93 123.46,219.29 125.21,219.70 126.95,220.16 128.70,220.69 130.44,221.28 132.19,221.96 133.93,222.73 135.68,223.60 137.42,224.58 139.17,225.68 140.91,226.92 142.66,228.31 144.40,229.87 146.15,231.60 147.89,233.52 149.63,235.64 151.38,237.98 153.12,240.54 154.87,243.34 156.61,246.36 158.36,249.62 160.10,253.10 161.85,256.80 163.59,260.70 165.34,264.78 167.08,269.00 168.83,273.35 170.57,277.77 172.32,282.23 174.06,286.70 175.81,291.12 177.55,295.46 179.30,299.69 181.04,303.76 182.79,307.66 184.53,311.36 186.28,314.85 188.02,318.10 189.77,321.13 191.51,323.92 193.26,326.48 195.00,328.82 196.75,330.95 198.49,332.87 200.24,334.60 201.98,336.15 203.73,337.54" fill="none" stroke="#3aa84a" stroke-width="1.1"/>
<polyline points="57.15,198.41 58.89,198.42 60.64,198.42 62.38,198.43 64.13,198.44 65.88,198.45 67.62,198.46 69.36,198.47 71.11,198.48 72.85,198.50 74.60,198.51 76.34,198.53 78.09,198.55 79.83,198.57 81.58,198.60 83.32,198.63 85.07,198.66 86.81,198.70 88.56,198.74 90.30,198.79 92.05,198.84 93.79,198.90 95.54,198.96 97.28,199.03 99.03,199.11 100.78,199.21 102.52,199.31 104.27,199.42 106.01,199.55 107.75,199.70 109.50,199.86 111.25,200.04 112.99,200.24 114.74,200.47 116.48,200.72 118.23,201.00 119.97,201.32 121.72,201.67 123.46,202.07 125.21,202.51 126.95,203.00 128.70,203.55 130.44,204.16 132.19,204.84 133.93,205.59 135.68,206.43 137.42,207.36 139.17,208.40 140.91,209.54 142.66,210.80 144.40,212.19 146.15,213.72 147.89,215.40 149.63,217.24 151.38,219.26 153.12,221.45 154.87,223.83 156.61,226.41 158.36,229.20 160.10,232.19 161.85,235.39 163.59,238.81 165.34,242.43 167.08,246.25 168.83,250.26 170.57,254.45 172.32,258.79 174.06,263.27 175.81,267.86 177.55,272.54 179.30,277.27 181.04,282.03 182.79,286.79 184.53,291.50 186.28,296.15 188.02,300.70 189.77,305.13 191.51,309.41 193.26,313.53 195.00,317.46 196.75,321.21 198.49,324.74 200.24,328.07 201.98,331.19 203.73,334.10" fill="none" stroke="#552862" stroke-width="1.1"/>
<polyline points="57.15,206.41 58.89,206.41 60.64,206.42 62.38,206.43 64.13,206.43 65.88,206.44 67.62,206.45 69.36,206.47 71.11,206.48 72.85,206.49 74.60,206.51 76.34,206.53 78.09,206.55 79.83,206.57 81.58,206.59 83.32,206.62 85.07,206.65 86.81,206.69 88.56,206.73 90.30,206.77 92.05,206.82 93.79,206.88 95.54,206.94 97.28,207.01 99.03,207.09 100.78,207.18 102.52,207.28 104.27,207.39 106.01,207.52 107.75,207.66 109.50,207.82 111.25,207.99 112.99,208.19 114.74,208.41 116.48,208.66 118.23,208.93 119.97,209.24 121.72,209.58 123.46,209.97 125.21,210.40 126.95,210.87 128.70,211.41 130.44,212.00 132.19,212.66 133.93,213.40 135.68,214.21 137.42,215.12 139.17,216.12 140.91,217.23 142.66,218.45 144.40,219.80 146.15,221.28 147.89,222.91 149.63,224.70 151.38,226.65 153.12,228.77 154.87,231.08 156.61,233.57 158.36,236.26 160.10,239.15 161.85,242.24 163.59,245.53 165.34,249.01 167.08,252.68 168.83,256.53 170.57,260.55 172.32,264.71 174.06,269.00 175.81,273.39 177.55,277.85 179.30,282.36 181.04,286.89 182.79,291.41 184.53,295.89 186.28,300.29 188.02,304.60 189.77,308.79 191.51,312.84 193.26,316.72 195.00,320.43 196.75,323.95 198.49,327.28 200.24,330.41 201.98,333.34 203.73,336.07" fill="none" stroke="#552862" stroke-width="1.1"/>
<polyline points="57.15,203.50 58.89,203.51 60.64,203.52 62.38,203.53 64.13,203.53 65.88,203.54 67.62,203.56 69.36,203.57 71.11,203.58 72.85,203.60 74.60,203.62 76.34,203.64 78.09,203.66 79.83,203.68 81.58,203.71 83.32,203.74 85.07,203.78 86.81,203.82 88.56,203.86 90.30,203.91 92.05,203.97 93.79,204.03 95.54,204.10 97.28,204.18 99.03,204.27 100.78,204.37 102.52,204.48 104.27,204.61 106.01,204.75 107.75,204.90 109.50,205.08 111.25,205.27 112.99,205.49 114.74,205.74 116.48,206.01 118.23,206.32 119.97,206.66 121.72,207.04 123.46,207.47 125.21,207.95 126.95,208.48 128.70,209.07 130.44,209.73 132.19,210.46 133.93,211.27 135.68,212.18 137.42,213.18 139.17,214.28 140.91,215.51 142.66,216.85 144.40,218.34 146.15,219.97 147.89,221.75 149.63,223.70 151.38,225.83 153.12,228.14 154.87,230.64 156.61,233.34 158.36,236.24 160.10,239.35 161.85,242.65 163.59,246.16 165.34,249.87 167.08,253.75 168.83,257.81 170.57,262.02 172.32,266.36 174.06,270.81 175.81,275.35 177.55,279.94 179.30,284.55 181.04,289.16 182.79,293.73 184.53,298.23 186.28,302.64 188.02,306.93 189.77,311.08 191.51,315.07 193.26,318.89 195.00,322.52 196.75,325.95 198.49,329.17 200.24,332.20 201.98,335.02 203.73,337.64" fill="none" stroke="#c8102e" stroke-width="1.1"/>
<polyline points="57.15,209.32 58.89,209.32 60.64,209.33 62.38,209.34 64.13,209.35 65.88,209.36 67.62,209.37 69.36,209.38 71.11,209.39 72.85,209.41 74.60,209.42 76.34,209.44 78.09,209.46 79.83,209.49 81.58,209.51 83.32,209.54 85.07,209.58 86.81,209.62 88.56,209.66 90.30,209.70 92.05,209.76 93.79,209.82 95.54,209.88 97.28,209.96 99.03,210.04 100.78,210.13 102.52,210.24 104.27,210.36 106.01,210.49 107.75,210.64 109.50,210.80 111.25,210.98 112.99,211.19 114.74,211.42 116.48,211.68 118.23,211.97 119.97,212.29 121.72,212.65 123.46,213.06 125.21,213.51 126.95,214.01 128.70,214.57 130.44,215.19 132.19,215.88 133.93,216.65 135.68,217.50 137.42,218.44 139.17,219.49 140.91,220.64 142.66,221.92 144.40,223.32 146.15,224.86 147.89,226.55 149.63,228.40 151.38,230.41 153.12,232.60 154.87,234.97 156.61,237.54 158.36,240.29 160.10,243.25 161.85,246.40 163.59,249.74 165.34,253.27 167.08,256.98 168.83,260.86 170.57,264.89 172.32,269.05 174.06,273.32 175.81,277.68 177.55,282.09 179.30,286.53 181.04,290.98 182.79,295.39 184.53,299.75 186.28,304.02 188.02,308.18 189.77,312.21 191.51,316.09 193.26,319.80 195.00,323.33 196.75,326.67 198.49,329.82 200.24,332.78 201.98,335.53 203.73,338.10" fill="none" stroke="#c8102e" stroke-width="1.1"/>
<polyline points="57.15,212.10 58.89,212.11 60.64,212.12 62.38,212.12 64.13,212.13 65.88,212.14 67.62,212.15 69.36,212.16 71.11,212.18 72.85,212.19 74.60,212.21 76.34,212.22 78.09,212.24 79.83,212.27 81.58,212.29 83.32,212.32 85.07,212.35 86.81,212.39 88.56,212.43 90.30,212.47 92.05,212.53 93.79,212.58 95.54,212.65 97.28,212.72 99.03,212.80 100.78,212.89 102.52,212.99 104.27,213.10 106.01,213.23 107.75,213.37 109.50,213.53 111.25,213.70 112.99,213.90 114.74,214.12 116.48,214.37 118.23,214.65 119.97,214.96 121.72,215.31 123.46,215.69 125.21,216.12 126.95,216.61 128.70,217.14 130.44,217.74 132.19,218.40 133.93,219.14 135.68,219.96 137.42,220.87 139.17,221.88 140.91,222.99 142.66,224.21 144.40,225.57 146.15,227.05 147.89,228.68 149.63,230.46 151.38,232.41 153.12,234.52 154.87,236.82 156.61,239.30 158.36,241.96 160.10,244.83 161.85,247.88 163.59,251.13 165.34,254.56 167.08,258.17 168.83,261.94 170.57,265.87 172.32,269.93 174.06,274.11 175.81,278.37 177.55,282.70 179.30,287.06 181.04,291.42 182.79,295.76 184.53,300.05 186.28,304.27 188.02,308.38 189.77,312.36 191.51,316.20 193.26,319.88 195.00,323.38 196.75,326.70 198.49,329.83 200.24,332.77 201.98,335.52 203.73,338.07" fill="none" stroke="#c8102e" stroke-width="1.1"/>
<polyline points="57.15,212.83 58.89,212.84 60.64,212.85 62.38,212.85 64.13,212.86 65.88,212.87 67.62,212.88 69.36,212.89 71.11,212.91 72.85,212.92 74.60,212.94 76.34,212.96 78.09,212.98 79.83,213.00 81.58,213.03 83.32,213.06 85.07,213.09 86.81,213.13 88.56,213.17 90.30,213.22 92.05,213.27 93.79,213.33 95.54,213.40 97.28,213.47 99.03,213.56 100.78,213.65 102.52,213.75 104.27,213.87 106.01,214.00 107.75,214.15 109.50,214.31 111.25,214.50 112.99,214.71 114.74,214.94 116.48,215.19 118.23,215.48 119.97,215.81 121.72,216.17 123.46,216.57 125.21,217.02 126.95,217.52 128.70,218.08 130.44,218.70 132.19,219.39 133.93,220.15 135.68,221.00 137.42,221.94 139.17,222.99 140.91,224.14 142.66,225.41 144.40,226.80 146.15,228.34 147.89,230.02 149.63,231.86 151.38,233.86 153.12,236.03 154.87,238.39 156.61,240.93 158.36,243.66 160.10,246.59 161.85,249.71 163.59,253.01 165.34,256.50 167.08,260.16 168.83,263.98 170.57,267.94 172.32,272.03 174.06,276.23 175.81,280.50 177.55,284.82 179.30,289.16 181.04,293.50 182.79,297.80 184.53,302.05 186.28,306.20 188.02,310.24 189.77,314.15 191.51,317.91 193.26,321.50 195.00,324.92 196.75,328.15 198.49,331.19 200.24,334.04 201.98,336.69 203.73,339.16" fill="none" stroke="#c8102e" stroke-width="1.1"/>
<polyline points="57.15,213.56 58.89,213.56 60.64,213.57 62.38,213.58 64.13,213.58 65.88,213.59 67.62,213.60 69.36,213.61 71.11,213.63 72.85,213.64 74.60,213.66 76.34,213.67 78.09,213.69 79.83,213.71 81.58,213.74 83.32,213.77 85.07,213.80 86.81,213.83 88.56,213.87 90.30,213.92 92.05,213.96 93.79,214.02 95.54,214.08 97.28,214.15 99.03,214.23 100.78,214.31 102.52,214.41 104.27,214.52 106.01,214.64 107.75,214.78 109.50,214.93 111.25,215.11 112.99,215.30 114.74,215.51 116.48,215.75 118.23,216.02 119.97,216.32 121.72,216.66 123.46,217.03 125.21,217.45 126.95,217.92 128.70,218.44 130.44,219.02 132.19,219.66 133.93,220.38 135.68,221.17 137.42,222.05 139.17,223.03 140.91,224.11 142.66,225.30 144.40,226.61 146.15,228.06 147.89,229.64 149.63,231.38 151.38,233.27 153.12,235.33 154.87,237.57 156.61,239.98 158.36,242.59 160.10,245.38 161.85,248.37 163.59,251.55 165.34,254.91 167.08,258.45 168.83,262.16 170.57,266.02 172.32,270.02 174.06,274.13 175.81,278.34 177.55,282.61 179.30,286.93 181.04,291.25 182.79,295.56 184.53,299.82 186.28,304.01 188.02,308.10 189.77,312.07 191.51,315.91 193.26,319.58 195.00,323.09 196.75,326.41 198.49,329.55 200.24,332.50 201.98,335.26 203.73,337.83" fill="none" stroke="#c8102e" stroke-width="1.1"/>
<line x1="57.15" y1="226.54" x2="57.15" y2="232.26" stroke="#1c4b8c" stroke-width="0.6"/>
<line x1="56.15" y1="226.54" x2="58.15" y2="226.54" stroke="#1c4b8c" stroke-width="0.6"/>
<polygon points="57.15,227.32 59.23,229.40 57.15,231.48 55.07,229.40" fill="#1c4b8c"/>
<line x1="81.23" y1="226.53" x2="81.23" y2="232.55" stroke="#1c4b8c" stroke-width="0.6"/>
<line x1="80.23" y1="226.53" x2="82.23" y2="226.53" stroke="#1c4b8c" stroke-width="0.6"/>
<polygon points="81.23,227.46 83.31,229.54 81.23,231.62 79.15,229.54" fill="#1c4b8c"/>
<line x1="105.66" y1="230.85" x2="105.66" y2="234.18" stroke="#1c4b8c" stroke-width="0.6"/>
<line x1="104.66" y1="230.85" x2="106.66" y2="230.85" stroke="#1c4b8c" stroke-width="0.6"/>
<polygon points="105.66,230.43 107.74,232.51 105.66,234.59 103.58,232.51" fill="#1c4b8c"/>
<line x1="130.44" y1="251.23" x2="130.44" y2="258.41" stroke="#1c4b8c" stroke-width="0.6"/>
<line x1="129.44" y1="251.23" x2="131.44" y2="251.23" stroke="#1c4b8c" stroke-width="0.6"/>
<polygon points="130.44,252.74 132.52,254.82 130.44,256.90 128.36,254.82" fill="#1c4b8c"/>
<line x1="154.87" y1="293.02" x2="154.87" y2="297.19" stroke="#1c4b8c" stroke-width="0.6"/>
<line x1="153.87" y1="293.02" x2="155.87" y2="293.02" stroke="#1c4b8c" stroke-width="0.6"/>
<polygon points="154.87,293.02 156.95,295.10 154.87,297.18 152.79,295.10" fill="#1c4b8c"/>
<line x1="179.30" y1="322.47" x2="179.30" y2="327.82" stroke="#1c4b8c" stroke-width="0.6"/>
<line x1="178.30" y1="322.47" x2="180.30" y2="322.47" stroke="#1c4b8c" stroke-width="0.6"/>
<polygon points="179.30,323.06 181.38,325.14 179.30,327.22 177.22,325.14" fill="#1c4b8c"/>
<line x1="203.73" y1="335.11" x2="203.73" y2="340.50" stroke="#1c4b8c" stroke-width="0.6"/>
<line x1="202.73" y1="335.11" x2="204.73" y2="335.11" stroke="#1c4b8c" stroke-width="0.6"/>
<polygon points="203.73,335.73 205.81,337.81 203.73,339.89 201.65,337.81" fill="#1c4b8c"/>
<line x1="57.15" y1="218.73" x2="57.15" y2="222.48" stroke="#1c4b8c" stroke-width="0.6"/>
<line x1="56.15" y1="218.73" x2="58.15" y2="218.73" stroke="#1c4b8c" stroke-width="0.6"/>
<rect x="55.55" y="219.00" width="3.20" height="3.20" fill="#1c4b8c"/>
<line x1="81.23" y1="217.65" x2="81.23" y2="224.99" stroke="#1c4b8c" stroke-width="0.6"/>
<line x1="80.23" y1="217.65" x2="82.23" y2="217.65" stroke="#1c4b8c" stroke-width="0.6"/>
<rect x="79.63" y="219.72" width="3.20" height="3.20" fill="#1c4b8c"/>
<line x1="105.66" y1="222.00" x2="105.66" y2="228.71" stroke="#1c4b8c" stroke-width="0.6"/>
<line x1="104.66" y1="222.00" x2="106.66" y2="222.00" stroke="#1c4b8c" stroke-width="0.6"/>
<rect x="104.06" y="223.75" width="3.20" height="3.20" fill="#1c4b8c"/>
<line x1="130.44" y1="237.52" x2="130.44" y2="240.84" stroke="#1c4b8c" stroke-width="0.6"/>
<line x1="129.44" y1="237.52" x2="131.44" y2="237.52" stroke="#1c4b8c" stroke-width="0.6"/>
<rect x="128.84" y="237.58" width="3.20" height="3.20" fill="#1c4b8c"/>
<line x1="154.87" y1="275.23" x2="154.87" y2="281.19" stroke="#1c4b8c" stroke-width="0.6"/>
<line x1="153.87" y1="275.23" x2="155.87" y2="275.23" stroke="#1c4b8c" stroke-width="0.6"/>
<rect x="153.27" y="276.61" width="3.20" height="3.20" fill="#1c4b8c"/>
<line x1="179.30" y1="321.14" x2="179.30" y2="324.30" stroke="#1c4b8c" stroke-width="0.6"/>
<line x1="178.30" y1="321.14" x2="180.30" y2="321.14" stroke="#1c4b8c" stroke-width="0.6"/>
<rect x="177.70" y="321.12" width="3.20" height="3.20" fill="#1c4b8c"/>
<line x1="203.73" y1="333.26" x2="203.73" y2="338.62" stroke="#1c4b8c" stroke-width="0.6"/>
<line x1="202.73" y1="333.26" x2="204.73" y2="333.26" stroke="#1c4b8c" stroke-width="0.6"/>
<rect x="202.13" y="334.34" width="3.20" height="3.20" fill="#1c4b8c"/>
<line x1="57.15" y1="218.76" x2="57.15" y2="226.15" stroke="#1c4b8c" stroke-width="0.6"/>
<line x1="56.15" y1="218.76" x2="58.15" y2="218.76" stroke="#1c4b8c" stroke-width="0.6"/>
<circle cx="57.15" cy="222.46" r="1.60" fill="#1c4b8c"/>
<line x1="81.23" y1="219.50" x2="81.23" y2="227.11" stroke="#1c4b8c" stroke-width="0.6"/>
<line x1="80.23" y1="219.50" x2="82.23" y2="219.50" stroke="#1c4b8c" stroke-width="0.6"/>
<circle cx="81.23" cy="223.31" r="1.60" fill="#1c4b8c"/>
<line x1="105.66" y1="225.71" x2="105.66" y2="232.71" stroke="#1c4b8c" stroke-width="0.6"/>
<line x1="104.66" y1="225.71" x2="106.66" y2="225.71" stroke="#1c4b8c" stroke-width="0.6"/>
<circle cx="105.66" cy="229.21" r="1.60" fill="#1c4b8c"/>
<line x1="130.44" y1="241.95" x2="130.44" y2="249.63" stroke="#1c4b8c" stroke-width="0.6"/>
<line x1="129.44" y1="241.95" x2="131.44" y2="241.95" stroke="#1c4b8c" stroke-width="0.6"/>
<circle cx="130.44" cy="245.79" r="1.60" fill="#1c4b8c"/>
<line x1="154.87" y1="282.78" x2="154.87" y2="286.27" stroke="#1c4b8c" stroke-width="0.6"/>
<line x1="153.87" y1="282.78" x2="155.87" y2="282.78" stroke="#1c4b8c" stroke-width="0.6"/>
<circle cx="154.87" cy="284.53" r="1.60" fill="#1c4b8c"/>
<line x1="179.30" y1="325.30" x2="179.30" y2="329.38" stroke="#1c4b8c" stroke-width="0.6"/>
<line x1="178.30" y1="325.30" x2="180.30" y2="325.30" stroke="#1c4b8c" stroke-width="0.6"/>
<circle cx="179.30" cy="327.34" r="1.60" fill="#1c4b8c"/>
<line x1="203.73" y1="333.69" x2="203.73" y2="338.87" stroke="#1c4b8c" stroke-width="0.6"/>
<line x1="202.73" y1="333.69" x2="204.73" y2="333.69" stroke="#1c4b8c" stroke-width="0.6"/>
<circle cx="203.73" cy="336.28" r="1.60" fill="#1c4b8c"/>
<line x1="57.15" y1="212.57" x2="57.15" y2="217.08" stroke="#3aa84a" stroke-width="0.6"/>
<line x1="56.15" y1="212.57" x2="58.15" y2="212.57" stroke="#3aa84a" stroke-width="0.6"/>
<polygon points="57.15,212.74 59.23,214.82 57.15,216.90 55.07,214.82" fill="#3aa84a"/>
<line x1="81.23" y1="213.18" x2="81.23" y2="218.11" stroke="#3aa84a" stroke-width="0.6"/>
<line x1="80.23" y1="213.18" x2="82.23" y2="213.18" stroke="#3aa84a" stroke-width="0.6"/>
<polygon points="81.23,213.56 83.31,215.64 81.23,217.72 79.15,215.64" fill="#3aa84a"/>
<line x1="105.66" y1="214.29" x2="105.66" y2="220.21" stroke="#3aa84a" stroke-width="0.6"/>
<line x1="104.66" y1="214.29" x2="106.66" y2="214.29" stroke="#3aa84a" stroke-width="0.6"/>
<polygon points="105.66,215.17 107.74,217.25 105.66,219.33 103.58,217.25" fill="#3aa84a"/>
<line x1="130.44" y1="216.46" x2="130.44" y2="223.98" stroke="#3aa84a" stroke-width="0.6"/>
<line x1="129.44" y1="216.46" x2="131.44" y2="216.46" stroke="#3aa84a" stroke-width="0.6"/>
<polygon points="130.44,218.14 132.52,220.22 130.44,222.30 128.36,220.22" fill="#3aa84a"/>
<line x1="154.87" y1="238.92" x2="154.87" y2="246.57" stroke="#3aa84a" stroke-width="0.6"/>
<line x1="153.87" y1="238.92" x2="155.87" y2="238.92" stroke="#3aa84a" stroke-width="0.6"/>
<polygon points="154.87,240.67 156.95,242.75 154.87,244.83 152.79,242.75" fill="#3aa84a"/>
<line x1="179.30" y1="294.90" x2="179.30" y2="302.85" stroke="#3aa84a" stroke-width="0.6"/>
<line x1="178.30" y1="294.90" x2="180.30" y2="294.90" stroke="#3aa84a" stroke-width="0.6"/>
<polygon points="179.30,296.80 181.38,298.88 179.30,300.96 177.22,298.88" fill="#3aa84a"/>
<line x1="203.73" y1="335.05" x2="203.73" y2="338.86" stroke="#3aa84a" stroke-width="0.6"/>
<line x1="202.73" y1="335.05" x2="204.73" y2="335.05" stroke="#3aa84a" stroke-width="0.6"/>
<polygon points="203.73,334.87 205.81,336.95 203.73,339.03 201.65,336.95" fill="#3aa84a"/>
<line x1="57.15" y1="210.34" x2="57.15" y2="218.16" stroke="#3aa84a" stroke-width="0.6"/>
<line x1="56.15" y1="210.34" x2="58.15" y2="210.34" stroke="#3aa84a" stroke-width="0.6"/>
<circle cx="57.15" cy="214.25" r="1.60" fill="#3aa84a"/>
<line x1="81.23" y1="211.16" x2="81.23" y2="217.00" stroke="#3aa84a" stroke-width="0.6"/>
<line x1="80.23" y1="211.16" x2="82.23" y2="211.16" stroke="#3aa84a" stroke-width="0.6"/>
<circle cx="81.23" cy="214.08" r="1.60" fill="#3aa84a"/>
<line x1="105.66" y1="213.83" x2="105.66" y2="217.88" stroke="#3aa84a" stroke-width="0.6"/>
<line x1="104.66" y1="213.83" x2="106.66" y2="213.83" stroke="#3aa84a" stroke-width="0.6"/>
<circle cx="105.66" cy="215.85" r="1.60" fill="#3aa84a"/>
<line x1="130.44" y1="216.34" x2="130.44" y2="222.21" stroke="#3aa84a" stroke-width="0.6"/>
<line x1="129.44" y1="216.34" x2="131.44" y2="216.34" stroke="#3aa84a" stroke-width="0.6"/>
<circle cx="130.44" cy="219.28" r="1.60" fill="#3aa84a"/>
<line x1="154.87" y1="242.98" x2="154.87" y2="246.30" stroke="#3aa84a" stroke-width="0.6"/>
<line x1="153.87" y1="242.98" x2="155.87" y2="242.98" stroke="#3aa84a" stroke-width="0.6"/>
<circle cx="154.87" cy="244.64" r="1.60" fill="#3aa84a"/>
<line x1="179.30" y1="293.57" x2="179.30" y2="301.52" stroke="#3aa84a" stroke-width="0.6"/>
<line x1="178.30" y1="293.57" x2="180.30" y2="293.57" stroke="#3aa84a" stroke-width="0.6"/>
<circle cx="179.30" cy="297.54" r="1.60" fill="#3aa84a"/>
<line x1="203.73" y1="336.54" x2="203.73" y2="343.54" stroke="#3aa84a" stroke-width="0.6"/>
<line x1="202.73" y1="336.54" x2="204.73" y2="336.54" stroke="#3aa84a" stroke-width="0.6"/>
<circle cx="203.73" cy="340.04" r="1.60" fill="#3aa84a"/>
<line x1="57.15" y1="197.08" x2="57.15" y2="200.83" stroke="#552862" stroke-width="0.6"/>
<line x1="56.15" y1="197.08" x2="58.15" y2="197.08" stroke="#552862" stroke-width="0.6"/>
<circle cx="57.15" cy="198.95" r="1.60" fill="#552862"/>
<line x1="81.23" y1="196.42" x2="81.23" y2="203.27" stroke="#552862" stroke-width="0.6"/>
<line x1="80.23" y1="196.42" x2="82.23" y2="196.42" stroke="#552862" stroke-width="0.6"/>
<circle cx="81.23" cy="199.84" r="1.60" fill="#552862"/>
<line x1="105.66" y1="195.66" x2="105.66" y2="198.88" stroke="#552862" stroke-width="0.6"/>
<line x1="104.66" y1="195.66" x2="106.66" y2="195.66" stroke="#552862" stroke-width="0.6"/>
<circle cx="105.66" cy="197.27" r="1.60" fill="#552862"/>
<line x1="130.44" y1="201.85" x2="130.44" y2="205.08" stroke="#552862" stroke-width="0.6"/>
<line x1="129.44" y1="201.85" x2="131.44" y2="201.85" stroke="#552862" stroke-width="0.6"/>
<circle cx="130.44" cy="203.46" r="1.60" fill="#552862"/>
<line x1="154.87" y1="220.18" x2="154.87" y2="224.84" stroke="#552862" stroke-width="0.6"/>
<line x1="153.87" y1="220.18" x2="155.87" y2="220.18" stroke="#552862" stroke-width="0.6"/>
<circle cx="154.87" cy="222.51" r="1.60" fill="#552862"/>
<line x1="179.30" y1="271.01" x2="179.30" y2="278.92" stroke="#552862" stroke-width="0.6"/>
<line x1="178.30" y1="271.01" x2="180.30" y2="271.01" stroke="#552862" stroke-width="0.6"/>
<circle cx="179.30" cy="274.97" r="1.60" fill="#552862"/>
<line x1="203.73" y1="330.07" x2="203.73" y2="338.07" stroke="#552862" stroke-width="0.6"/>
<line x1="202.73" y1="330.07" x2="204.73" y2="330.07" stroke="#552862" stroke-width="0.6"/>
<circle cx="203.73" cy="334.07" r="1.60" fill="#552862"/>
<line x1="57.15" y1="205.87" x2="57.15" y2="209.25" stroke="#552862" stroke-width="0.6"/>
<line x1="56.15" y1="205.87" x2="58.15" y2="205.87" stroke="#552862" stroke-width="0.6"/>
<polygon points="57.15,205.32 59.23,209.16 55.07,209.16" fill="#552862"/>
<line x1="81.23" y1="204.41" x2="81.23" y2="207.56" stroke="#552862" stroke-width="0.6"/>
<line x1="80.23" y1="204.41" x2="82.23" y2="204.41" stroke="#552862" stroke-width="0.6"/>
<polygon points="81.23,203.74 83.31,207.58 79.15,207.58" fill="#552862"/>
<line x1="105.66" y1="206.81" x2="105.66" y2="211.85" stroke="#552862" stroke-width="0.6"/>
<line x1="104.66" y1="206.81" x2="106.66" y2="206.81" stroke="#552862" stroke-width="0.6"/>
<polygon points="105.66,207.09 107.74,210.93 103.58,210.93" fill="#552862"/>
<line x1="130.44" y1="209.44" x2="130.44" y2="213.22" stroke="#552862" stroke-width="0.6"/>
<line x1="129.44" y1="209.44" x2="131.44" y2="209.44" stroke="#552862" stroke-width="0.6"/>
<polygon points="130.44,209.09 132.52,212.93 128.36,212.93" fill="#552862"/>
<line x1="154.87" y1="230.18" x2="154.87" y2="237.52" stroke="#552862" stroke-width="0.6"/>
<line x1="153.87" y1="230.18" x2="155.87" y2="230.18" stroke="#552862" stroke-width="0.6"/>
<polygon points="154.87,231.61 156.95,235.45 152.79,235.45" fill="#552862"/>
<line x1="179.30" y1="279.59" x2="179.30" y2="287.39" stroke="#552862" stroke-width="0.6"/>
<line x1="178.30" y1="279.59" x2="180.30" y2="279.59" stroke="#552862" stroke-width="0.6"/>
<polygon points="179.30,281.25 181.38,285.09 177.22,285.09" fill="#552862"/>
<line x1="203.73" y1="331.22" x2="203.73" y2="336.11" stroke="#552862" stroke-width="0.6"/>
<line x1="202.73" y1="331.22" x2="204.73" y2="331.22" stroke="#552862" stroke-width="0.6"/>
<polygon points="203.73,331.43 205.81,335.27 201.65,335.27" fill="#552862"/>
<line x1="57.15" y1="200.94" x2="57.15" y2="206.54" stroke="#c8102e" stroke-width="0.6"/>
<line x1="56.15" y1="200.94" x2="58.15" y2="200.94" stroke="#c8102e" stroke-width="0.6"/>
<rect x="55.55" y="202.14" width="3.20" height="3.20" fill="#c8102e"/>
<line x1="81.23" y1="199.85" x2="81.23" y2="205.82" stroke="#c8102e" stroke-width="0.6"/>
<line x1="80.23" y1="199.85" x2="82.23" y2="199.85" stroke="#c8102e" stroke-width="0.6"/>
<rect x="79.63" y="201.23" width="3.20" height="3.20" fill="#c8102e"/>
<line x1="105.66" y1="201.31" x2="105.66" y2="207.41" stroke="#c8102e" stroke-width="0.6"/>
<line x1="104.66" y1="201.31" x2="106.66" y2="201.31" stroke="#c8102e" stroke-width="0.6"/>
<rect x="104.06" y="202.76" width="3.20" height="3.20" fill="#c8102e"/>
<line x1="130.44" y1="204.29" x2="130.44" y2="209.83" stroke="#c8102e" stroke-width="0.6"/>
<line x1="129.44" y1="204.29" x2="131.44" y2="204.29" stroke="#c8102e" stroke-width="0.6"/>
<rect x="128.84" y="205.46" width="3.20" height="3.20" fill="#c8102e"/>
<line x1="154.87" y1="227.76" x2="154.87" y2="234.36" stroke="#c8102e" stroke-width="0.6"/>
<line x1="153.87" y1="227.76" x2="155.87" y2="227.76" stroke="#c8102e" stroke-width="0.6"/>
<rect x="153.27" y="229.46" width="3.20" height="3.20" fill="#c8102e"/>
<line x1="179.30" y1="283.89" x2="179.30" y2="288.39" stroke="#c8102e" stroke-width="0.6"/>
<line x1="178.30" y1="283.89" x2="180.30" y2="283.89" stroke="#c8102e" stroke-width="0.6"/>
<rect x="177.70" y="284.54" width="3.20" height="3.20" fill="#c8102e"/>
<line x1="203.73" y1="331.94" x2="203.73" y2="337.54" stroke="#c8102e" stroke-width="0.6"/>
<line x1="202.73" y1="331.94" x2="204.73" y2="331.94" stroke="#c8102e" stroke-width="0.6"/>
<rect x="202.13" y="333.14" width="3.20" height="3.20" fill="#c8102e"/>
<line x1="57.15" y1="207.50" x2="57.15" y2="210.55" stroke="#c8102e" stroke-width="0.6"/>
<line x1="56.15" y1="207.50" x2="58.15" y2="207.50" stroke="#c8102e" stroke-width="0.6"/>
<polygon points="57.15,206.95 59.23,209.03 57.15,211.11 55.07,209.03" fill="#c8102e"/>
<line x1="81.23" y1="207.07" x2="81.23" y2="212.97" stroke="#c8102e" stroke-width="0.6"/>
<line x1="80.23" y1="207.07" x2="82.23" y2="207.07" stroke="#c8102e" stroke-width="0.6"/>
<polygon points="81.23,207.94 83.31,210.02 81.23,212.10 79.15,210.02" fill="#c8102e"/>
<line x1="105.66" y1="210.33" x2="105.66" y2="216.41" stroke="#c8102e" stroke-width="0.6"/>
<line x1="104.66" y1="210.33" x2="106.66" y2="210.33" stroke="#c8102e" stroke-width="0.6"/>
<polygon points="105.66,211.29 107.74,213.37 105.66,215.45 103.58,213.37" fill="#c8102e"/>
<line x1="130.44" y1="212.74" x2="130.44" y2="216.04" stroke="#c8102e" stroke-width="0.6"/>
<line x1="129.44" y1="212.74" x2="131.44" y2="212.74" stroke="#c8102e" stroke-width="0.6"/>
<polygon points="130.44,212.31 132.52,214.39 130.44,216.47 128.36,214.39" fill="#c8102e"/>
<line x1="154.87" y1="231.54" x2="154.87" y2="236.87" stroke="#c8102e" stroke-width="0.6"/>
<line x1="153.87" y1="231.54" x2="155.87" y2="231.54" stroke="#c8102e" stroke-width="0.6"/>
<polygon points="154.87,232.12 156.95,234.20 154.87,236.28 152.79,234.20" fill="#c8102e"/>
<line x1="179.30" y1="283.07" x2="179.30" y2="287.83" stroke="#c8102e" stroke-width="0.6"/>
<line x1="178.30" y1="283.07" x2="180.30" y2="283.07" stroke="#c8102e" stroke-width="0.6"/>
<polygon points="179.30,283.37 181.38,285.45 179.30,287.53 177.22,285.45" fill="#c8102e"/>
<line x1="203.73" y1="333.50" x2="203.73" y2="340.19" stroke="#c8102e" stroke-width="0.6"/>
<line x1="202.73" y1="333.50" x2="204.73" y2="333.50" stroke="#c8102e" stroke-width="0.6"/>
<polygon points="203.73,334.76 205.81,336.84 203.73,338.92 201.65,336.84" fill="#c8102e"/>
<line x1="57.15" y1="213.35" x2="57.15" y2="216.65" stroke="#c8102e" stroke-width="0.6"/>
<line x1="56.15" y1="213.35" x2="58.15" y2="213.35" stroke="#c8102e" stroke-width="0.6"/>
<polygon points="57.15,217.24 59.23,213.40 55.07,213.40" fill="#c8102e"/>
<line x1="81.23" y1="207.31" x2="81.23" y2="215.13" stroke="#c8102e" stroke-width="0.6"/>
<line x1="80.23" y1="207.31" x2="82.23" y2="207.31" stroke="#c8102e" stroke-width="0.6"/>
<polygon points="81.23,213.46 83.31,209.62 79.15,209.62" fill="#c8102e"/>
<line x1="105.66" y1="212.07" x2="105.66" y2="217.35" stroke="#c8102e" stroke-width="0.6"/>
<line x1="104.66" y1="212.07" x2="106.66" y2="212.07" stroke="#c8102e" stroke-width="0.6"/>
<polygon points="105.66,216.95 107.74,213.11 103.58,213.11" fill="#c8102e"/>
<line x1="130.44" y1="214.88" x2="130.44" y2="219.48" stroke="#c8102e" stroke-width="0.6"/>
<line x1="129.44" y1="214.88" x2="131.44" y2="214.88" stroke="#c8102e" stroke-width="0.6"/>
<polygon points="130.44,219.42 132.52,215.58 128.36,215.58" fill="#c8102e"/>
<line x1="154.87" y1="235.36" x2="154.87" y2="239.92" stroke="#c8102e" stroke-width="0.6"/>
<line x1="153.87" y1="235.36" x2="155.87" y2="235.36" stroke="#c8102e" stroke-width="0.6"/>
<polygon points="154.87,239.88 156.95,236.04 152.79,236.04" fill="#c8102e"/>
<line x1="179.30" y1="284.86" x2="179.30" y2="290.84" stroke="#c8102e" stroke-width="0.6"/>
<line x1="178.30" y1="284.86" x2="180.30" y2="284.86" stroke="#c8102e" stroke-width="0.6"/>
<polygon points="179.30,290.09 181.38,286.25 177.22,286.25" fill="#c8102e"/>
<line x1="203.73" y1="336.84" x2="203.73" y2="341.72" stroke="#c8102e" stroke-width="0.6"/>
<line x1="202.73" y1="336.84" x2="204.73" y2="336.84" stroke="#c8102e" stroke-width="0.6"/>
<polygon points="203.73,341.52 205.81,337.68 201.65,337.68" fill="#c8102e"/>
<line x1="57.15" y1="209.62" x2="57.15" y2="212.75" stroke="#c8102e" stroke-width="0.6"/>
<line x1="56.15" y1="209.62" x2="58.15" y2="209.62" stroke="#c8102e" stroke-width="0.6"/>
<circle cx="57.15" cy="211.18" r="1.60" fill="#c8102e"/>
<line x1="81.23" y1="209.27" x2="81.23" y2="215.94" stroke="#c8102e" stroke-width="0.6"/>
<line x1="80.23" y1="209.27" x2="82.23" y2="209.27" stroke="#c8102e" stroke-width="0.6"/>
<circle cx="81.23" cy="212.60" r="1.60" fill="#c8102e"/>
<line x1="105.66" y1="213.07" x2="105.66" y2="217.18" stroke="#c8102e" stroke-width="0.6"/>
<line x1="104.66" y1="213.07" x2="106.66" y2="213.07" stroke="#c8102e" stroke-width="0.6"/>
<circle cx="105.66" cy="215.13" r="1.60" fill="#c8102e"/>
<line x1="130.44" y1="214.76" x2="130.44" y2="218.95" stroke="#c8102e" stroke-width="0.6"/>
<line x1="129.44" y1="214.76" x2="131.44" y2="214.76" stroke="#c8102e" stroke-width="0.6"/>
<circle cx="130.44" cy="216.85" r="1.60" fill="#c8102e"/>
<line x1="154.87" y1="237.70" x2="154.87" y2="242.87" stroke="#c8102e" stroke-width="0.6"/>
<line x1="153.87" y1="237.70" x2="155.87" y2="237.70" stroke="#c8102e" stroke-width="0.6"/>
<circle cx="154.87" cy="240.28" r="1.60" fill="#c8102e"/>
<line x1="179.30" y1="286.21" x2="179.30" y2="289.72" stroke="#c8102e" stroke-width="0.6"/>
<line x1="178.30" y1="286.21" x2="180.30" y2="286.21" stroke="#c8102e" stroke-width="0.6"/>
<circle cx="179.30" cy="287.96" r="1.60" fill="#c8102e"/>
<line x1="203.73" y1="337.90" x2="203.73" y2="342.57" stroke="#c8102e" stroke-width="0.6"/>
<line x1="202.73" y1="337.90" x2="204.73" y2="337.90" stroke="#c8102e" stroke-width="0.6"/>
<circle cx="203.73" cy="340.24" r="1.60" fill="#c8102e"/>
<line x1="57.15" y1="208.94" x2="57.15" y2="214.13" stroke="#c8102e" stroke-width="0.6"/>
<line x1="56.15" y1="208.94" x2="58.15" y2="208.94" stroke="#c8102e" stroke-width="0.6"/>
<polygon points="57.15,209.30 59.23,213.14 55.07,213.14" fill="#c8102e"/>
<line x1="81.23" y1="209.66" x2="81.23" y2="213.50" stroke="#c8102e" stroke-width="0.6"/>
<line x1="80.23" y1="209.66" x2="82.23" y2="209.66" stroke="#c8102e" stroke-width="0.6"/>
<polygon points="81.23,209.34 83.31,213.18 79.15,213.18" fill="#c8102e"/>
<line x1="105.66" y1="212.48" x2="105.66" y2="218.73" stroke="#c8102e" stroke-width="0.6"/>
<line x1="104.66" y1="212.48" x2="106.66" y2="212.48" stroke="#c8102e" stroke-width="0.6"/>
<polygon points="105.66,213.37 107.74,217.21 103.58,217.21" fill="#c8102e"/>
<line x1="130.44" y1="214.06" x2="130.44" y2="219.31" stroke="#c8102e" stroke-width="0.6"/>
<line x1="129.44" y1="214.06" x2="131.44" y2="214.06" stroke="#c8102e" stroke-width="0.6"/>
<polygon points="130.44,214.44 132.52,218.28 128.36,218.28" fill="#c8102e"/>
<line x1="154.87" y1="237.43" x2="154.87" y2="241.03" stroke="#c8102e" stroke-width="0.6"/>
<line x1="153.87" y1="237.43" x2="155.87" y2="237.43" stroke="#c8102e" stroke-width="0.6"/>
<polygon points="154.87,236.99 156.95,240.83 152.79,240.83" fill="#c8102e"/>
<line x1="179.30" y1="284.77" x2="179.30" y2="288.72" stroke="#c8102e" stroke-width="0.6"/>
<line x1="178.30" y1="284.77" x2="180.30" y2="284.77" stroke="#c8102e" stroke-width="0.6"/>
<polygon points="179.30,284.51 181.38,288.35 177.22,288.35" fill="#c8102e"/>
<line x1="203.73" y1="332.37" x2="203.73" y2="339.56" stroke="#c8102e" stroke-width="0.6"/>
<line x1="202.73" y1="332.37" x2="204.73" y2="332.37" stroke="#c8102e" stroke-width="0.6"/>
<polygon points="203.73,333.73 205.81,337.57 201.65,337.57" fill="#c8102e"/>
<text x="238.00" y="224.00" font-size="8.6" text-anchor="start" fill="#333" textLength="41.5" lengthAdjust="spacingAndGlyphs">ALCL Lines</text>
<line x1="231.50" y1="227.20" x2="285.80" y2="227.20" stroke="#777" stroke-width="1.0"/>
<line x1="243.20" y1="232.80" x2="250.20" y2="232.80" stroke="#1c4b8c" stroke-width="0.7"/>
<polygon points="246.60,230.20 249.20,232.80 246.60,235.40 244.00,232.80" fill="#1c4b8c"/>
<text x="252.80" y="235.30" font-size="7.2" text-anchor="start" fill="#333">MAC1</text>
<line x1="243.20" y1="242.70" x2="250.20" y2="242.70" stroke="#1c4b8c" stroke-width="0.7"/>
<rect x="244.60" y="240.70" width="4.00" height="4.00" fill="#1c4b8c"/>
<text x="252.80" y="245.20" font-size="7.2" text-anchor="start" fill="#333">MAC2A</text>
<line x1="243.20" y1="253.30" x2="250.20" y2="253.30" stroke="#1c4b8c" stroke-width="0.7"/>
<circle cx="246.60" cy="253.30" r="2.00" fill="#1c4b8c"/>
<text x="252.80" y="255.80" font-size="7.2" text-anchor="start" fill="#333">MAC2B</text>
<line x1="243.20" y1="263.80" x2="250.20" y2="263.80" stroke="#3aa84a" stroke-width="0.7"/>
<polygon points="246.60,261.20 249.20,263.80 246.60,266.40 244.00,263.80" fill="#3aa84a"/>
<text x="252.80" y="266.30" font-size="7.2" text-anchor="start" fill="#333">TLBR1</text>
<line x1="243.20" y1="273.20" x2="250.20" y2="273.20" stroke="#3aa84a" stroke-width="0.7"/>
<circle cx="246.60" cy="273.20" r="2.00" fill="#3aa84a"/>
<text x="252.80" y="275.70" font-size="7.2" text-anchor="start" fill="#333">TLBR2</text>
<line x1="243.20" y1="283.00" x2="250.20" y2="283.00" stroke="#552862" stroke-width="0.7"/>
<circle cx="246.60" cy="283.00" r="2.00" fill="#552862"/>
<text x="252.80" y="285.50" font-size="7.2" text-anchor="start" fill="#333">FEPD</text>
<line x1="243.20" y1="292.30" x2="250.20" y2="292.30" stroke="#552862" stroke-width="0.7"/>
<polygon points="246.60,289.50 249.20,294.30 244.00,294.30" fill="#552862"/>
<text x="252.80" y="294.80" font-size="7.2" text-anchor="start" fill="#333">DL-40</text>
<line x1="243.20" y1="308.20" x2="250.20" y2="308.20" stroke="#c8102e" stroke-width="0.7"/>
<rect x="244.60" y="306.20" width="4.00" height="4.00" fill="#c8102e"/>
<text x="252.80" y="310.70" font-size="7.2" text-anchor="start" fill="#333">DEL</text>
<line x1="243.20" y1="318.20" x2="250.20" y2="318.20" stroke="#c8102e" stroke-width="0.7"/>
<polygon points="246.60,315.60 249.20,318.20 246.60,320.80 244.00,318.20" fill="#c8102e"/>
<text x="252.80" y="320.70" font-size="7.2" text-anchor="start" fill="#333">Karpas299</text>
<line x1="243.20" y1="328.00" x2="250.20" y2="328.00" stroke="#c8102e" stroke-width="0.7"/>
<polygon points="246.60,330.80 249.20,326.00 244.00,326.00" fill="#c8102e"/>
<text x="252.80" y="330.50" font-size="7.2" text-anchor="start" fill="#333">SUDHL1</text>
<line x1="243.20" y1="337.60" x2="250.20" y2="337.60" stroke="#c8102e" stroke-width="0.7"/>
<circle cx="246.60" cy="337.60" r="2.00" fill="#c8102e"/>
<text x="252.80" y="340.10" font-size="7.2" text-anchor="start" fill="#333">L-82</text>
<line x1="243.20" y1="347.00" x2="250.20" y2="347.00" stroke="#c8102e" stroke-width="0.7"/>
<polygon points="246.60,344.00 247.36,345.95 249.45,346.07 247.84,347.40 248.36,349.43 246.60,348.30 244.84,349.43 245.36,347.40 243.75,346.07 245.84,345.95" fill="#c8102e"/>
<text x="252.80" y="349.50" font-size="7.2" text-anchor="start" fill="#333">SR786</text>
<line x1="240.30" y1="230.00" x2="240.30" y2="295.30" stroke="#555" stroke-width="0.7"/>
<line x1="240.30" y1="230.00" x2="242.00" y2="230.00" stroke="#555" stroke-width="0.7"/>
<line x1="240.30" y1="295.30" x2="242.00" y2="295.30" stroke="#555" stroke-width="0.7"/>
<line x1="240.30" y1="305.70" x2="240.30" y2="351.20" stroke="#555" stroke-width="0.7"/>
<line x1="240.30" y1="305.70" x2="242.00" y2="305.70" stroke="#555" stroke-width="0.7"/>
<line x1="240.30" y1="351.20" x2="242.00" y2="351.20" stroke="#555" stroke-width="0.7"/>
<text x="229.30" y="262.30" font-size="6.6" text-anchor="middle" fill="#3a62a0">ALK</text>
<text x="229.30" y="268.30" font-size="6.6" text-anchor="middle" fill="#3a62a0">(&#8211;)</text>
<text x="229.30" y="330.40" font-size="6.6" text-anchor="middle" fill="#3a62a0">ALK</text>
<text x="229.30" y="336.40" font-size="6.6" text-anchor="middle" fill="#3a62a0">(+)</text>
<line x1="280.50" y1="230.00" x2="280.50" y2="255.40" stroke="#555" stroke-width="0.7"/>
<line x1="278.80" y1="230.00" x2="280.50" y2="230.00" stroke="#555" stroke-width="0.7"/>
<line x1="278.80" y1="255.40" x2="280.50" y2="255.40" stroke="#555" stroke-width="0.7"/>
<text x="283.50" y="245.30" font-size="7.2" text-anchor="start" fill="#3a62a0">pC</text>
<line x1="280.50" y1="260.00" x2="280.50" y2="275.50" stroke="#555" stroke-width="0.7"/>
<line x1="278.80" y1="260.00" x2="280.50" y2="260.00" stroke="#555" stroke-width="0.7"/>
<line x1="278.80" y1="275.50" x2="280.50" y2="275.50" stroke="#555" stroke-width="0.7"/>
<text x="283.50" y="271.00" font-size="7.2" text-anchor="start" fill="#3a62a0">BIA</text>
<line x1="280.50" y1="279.60" x2="280.50" y2="293.50" stroke="#555" stroke-width="0.7"/>
<line x1="278.80" y1="279.60" x2="280.50" y2="279.60" stroke="#555" stroke-width="0.7"/>
<line x1="278.80" y1="293.50" x2="280.50" y2="293.50" stroke="#555" stroke-width="0.7"/>
<text x="283.50" y="290.20" font-size="7.2" text-anchor="start" fill="#3a62a0">Sys</text>
<text x="345.20" y="203.50" font-size="8.8" text-anchor="start" fill="#3a3a3a" textLength="63.3" lengthAdjust="spacingAndGlyphs">Pacritinib IC50 (nM)</text>
<line x1="337.00" y1="228.50" x2="414.50" y2="228.50" stroke="#222" stroke-width="0.9"/>
<line x1="337.00" y1="225.80" x2="337.00" y2="228.50" stroke="#222" stroke-width="0.8"/>
<text x="339.40" y="223.00" font-size="6.8" text-anchor="start" fill="#333" transform="rotate(-90 339.4 223.0)">0</text>
<line x1="349.62" y1="225.80" x2="349.62" y2="228.50" stroke="#222" stroke-width="0.8"/>
<text x="352.02" y="223.00" font-size="6.8" text-anchor="start" fill="#333" transform="rotate(-90 352.02 223.0)">200</text>
<line x1="362.24" y1="225.80" x2="362.24" y2="228.50" stroke="#222" stroke-width="0.8"/>
<text x="364.64" y="223.00" font-size="6.8" text-anchor="start" fill="#333" transform="rotate(-90 364.64 223.0)">400</text>
<line x1="374.86" y1="225.80" x2="374.86" y2="228.50" stroke="#222" stroke-width="0.8"/>
<text x="377.26" y="223.00" font-size="6.8" text-anchor="start" fill="#333" transform="rotate(-90 377.26 223.0)">600</text>
<line x1="387.48" y1="225.80" x2="387.48" y2="228.50" stroke="#222" stroke-width="0.8"/>
<text x="389.88" y="223.00" font-size="6.8" text-anchor="start" fill="#333" transform="rotate(-90 389.88 223.0)">800</text>
<line x1="400.10" y1="225.80" x2="400.10" y2="228.50" stroke="#222" stroke-width="0.8"/>
<text x="402.50" y="223.00" font-size="6.8" text-anchor="start" fill="#333" transform="rotate(-90 402.5 223.0)">1000</text>
<line x1="412.72" y1="225.80" x2="412.72" y2="228.50" stroke="#222" stroke-width="0.8"/>
<text x="415.12" y="223.00" font-size="6.8" text-anchor="start" fill="#333" transform="rotate(-90 415.12 223.0)">1200</text>
<line x1="337.00" y1="228.50" x2="337.00" y2="365.00" stroke="#222" stroke-width="0.9"/>
<rect x="337.00" y="232.00" width="6.19" height="5.40" fill="#c8102e"/>
<line x1="334.40" y1="234.70" x2="337.00" y2="234.70" stroke="#222" stroke-width="0.8"/>
<text x="330.80" y="237.10" font-size="6.8" text-anchor="end" fill="#3a3a3a">MAC1</text>
<text x="346.19" y="237.20" font-size="7.2" text-anchor="start" fill="#333">98.03</text>
<rect x="337.00" y="243.36" width="11.10" height="5.40" fill="#c8102e"/>
<line x1="334.40" y1="246.06" x2="337.00" y2="246.06" stroke="#222" stroke-width="0.8"/>
<text x="330.80" y="248.46" font-size="6.8" text-anchor="end" fill="#3a3a3a">MAC2A</text>
<text x="351.10" y="248.56" font-size="7.2" text-anchor="start" fill="#333">175.9</text>
<rect x="337.00" y="254.72" width="8.22" height="5.40" fill="#c8102e"/>
<line x1="334.40" y1="257.42" x2="337.00" y2="257.42" stroke="#222" stroke-width="0.8"/>
<text x="330.80" y="259.82" font-size="6.8" text-anchor="end" fill="#3a3a3a">MAC2B</text>
<text x="348.22" y="259.92" font-size="7.2" text-anchor="start" fill="#333">130.3</text>
<rect x="337.00" y="266.08" width="41.86" height="5.40" fill="#c8102e"/>
<line x1="334.40" y1="268.78" x2="337.00" y2="268.78" stroke="#222" stroke-width="0.8"/>
<text x="330.80" y="271.18" font-size="6.8" text-anchor="end" fill="#3a3a3a">TLBR1</text>
<text x="381.86" y="271.28" font-size="7.2" text-anchor="start" fill="#333">663.4</text>
<rect x="337.00" y="277.44" width="39.59" height="5.40" fill="#c8102e"/>
<line x1="334.40" y1="280.14" x2="337.00" y2="280.14" stroke="#222" stroke-width="0.8"/>
<text x="330.80" y="282.54" font-size="6.8" text-anchor="end" fill="#3a3a3a">TLBR2</text>
<text x="379.59" y="282.64" font-size="7.2" text-anchor="start" fill="#333">627.4</text>
<rect x="337.00" y="288.80" width="53.42" height="5.40" fill="#c8102e"/>
<line x1="334.40" y1="291.50" x2="337.00" y2="291.50" stroke="#222" stroke-width="0.8"/>
<text x="330.80" y="293.90" font-size="6.8" text-anchor="end" fill="#3a3a3a">FEPD</text>
<text x="393.42" y="294.00" font-size="7.2" text-anchor="start" fill="#333">846.6</text>
<rect x="337.00" y="300.16" width="64.17" height="5.40" fill="#c8102e"/>
<line x1="334.40" y1="302.86" x2="337.00" y2="302.86" stroke="#222" stroke-width="0.8"/>
<text x="330.80" y="305.26" font-size="6.8" text-anchor="end" fill="#3a3a3a">DL-40</text>
<text x="404.17" y="305.36" font-size="7.2" text-anchor="start" fill="#333">1017</text>
<rect x="337.00" y="311.52" width="64.36" height="5.40" fill="#c8102e"/>
<line x1="334.40" y1="314.22" x2="337.00" y2="314.22" stroke="#222" stroke-width="0.8"/>
<text x="330.80" y="316.62" font-size="6.8" text-anchor="end" fill="#3a3a3a">DEL</text>
<text x="404.36" y="316.72" font-size="7.2" text-anchor="start" fill="#333">1020</text>
<rect x="337.00" y="322.88" width="73.57" height="5.40" fill="#c8102e"/>
<line x1="334.40" y1="325.58" x2="337.00" y2="325.58" stroke="#222" stroke-width="0.8"/>
<text x="330.80" y="327.98" font-size="6.8" text-anchor="end" fill="#3a3a3a">Karpas299</text>
<text x="413.57" y="328.08" font-size="7.2" text-anchor="start" fill="#333">1166</text>
<rect x="337.00" y="334.24" width="64.93" height="5.40" fill="#c8102e"/>
<line x1="334.40" y1="336.94" x2="337.00" y2="336.94" stroke="#222" stroke-width="0.8"/>
<text x="330.80" y="339.34" font-size="6.8" text-anchor="end" fill="#3a3a3a">SUDHL1</text>
<text x="404.93" y="339.44" font-size="7.2" text-anchor="start" fill="#333">1029</text>
<rect x="337.00" y="345.60" width="71.30" height="5.40" fill="#c8102e"/>
<line x1="334.40" y1="348.30" x2="337.00" y2="348.30" stroke="#222" stroke-width="0.8"/>
<text x="330.80" y="350.70" font-size="6.8" text-anchor="end" fill="#3a3a3a">L-82</text>
<text x="411.30" y="350.80" font-size="7.2" text-anchor="start" fill="#333">1130</text>
<rect x="337.00" y="356.96" width="67.58" height="5.40" fill="#c8102e"/>
<line x1="334.40" y1="359.66" x2="337.00" y2="359.66" stroke="#222" stroke-width="0.8"/>
<text x="330.80" y="362.06" font-size="6.8" text-anchor="end" fill="#3a3a3a">SR786</text>
<text x="407.58" y="362.16" font-size="7.2" text-anchor="start" fill="#333">1071</text>
<text x="7.30" y="375.50" font-size="12" text-anchor="start" fill="#111" font-weight="bold">D</text>
<line x1="39.80" y1="374.60" x2="39.80" y2="542.00" stroke="#222" stroke-width="0.9"/>
<line x1="36.20" y1="541.60" x2="39.80" y2="541.60" stroke="#222" stroke-width="0.8"/>
<text x="34.40" y="544.00" font-size="6.8" text-anchor="end" fill="#333">0</text>
<line x1="36.20" y1="523.30" x2="39.80" y2="523.30" stroke="#222" stroke-width="0.8"/>
<text x="34.40" y="525.70" font-size="6.8" text-anchor="end" fill="#333">100</text>
<line x1="36.20" y1="505.00" x2="39.80" y2="505.00" stroke="#222" stroke-width="0.8"/>
<text x="34.40" y="507.40" font-size="6.8" text-anchor="end" fill="#333">200</text>
<line x1="36.20" y1="486.70" x2="39.80" y2="486.70" stroke="#222" stroke-width="0.8"/>
<text x="34.40" y="489.10" font-size="6.8" text-anchor="end" fill="#333">300</text>
<line x1="36.20" y1="468.40" x2="39.80" y2="468.40" stroke="#222" stroke-width="0.8"/>
<text x="34.40" y="470.80" font-size="6.8" text-anchor="end" fill="#333">400</text>
<line x1="36.20" y1="450.10" x2="39.80" y2="450.10" stroke="#222" stroke-width="0.8"/>
<text x="34.40" y="452.50" font-size="6.8" text-anchor="end" fill="#333">500</text>
<line x1="36.20" y1="431.80" x2="39.80" y2="431.80" stroke="#222" stroke-width="0.8"/>
<text x="34.40" y="434.20" font-size="6.8" text-anchor="end" fill="#333">600</text>
<line x1="36.20" y1="413.50" x2="39.80" y2="413.50" stroke="#222" stroke-width="0.8"/>
<text x="34.40" y="415.90" font-size="6.8" text-anchor="end" fill="#333">700</text>
<line x1="36.20" y1="395.20" x2="39.80" y2="395.20" stroke="#222" stroke-width="0.8"/>
<text x="34.40" y="397.60" font-size="6.8" text-anchor="end" fill="#333">800</text>
<line x1="36.20" y1="376.90" x2="39.80" y2="376.90" stroke="#222" stroke-width="0.8"/>
<text x="34.40" y="379.30" font-size="6.8" text-anchor="end" fill="#333">900</text>
<line x1="38.50" y1="542.00" x2="186.50" y2="542.00" stroke="#222" stroke-width="0.9"/>
<line x1="39.35" y1="542.00" x2="39.35" y2="544.80" stroke="#222" stroke-width="0.8"/>
<line x1="63.65" y1="542.00" x2="63.65" y2="544.80" stroke="#222" stroke-width="0.8"/>
<line x1="87.95" y1="542.00" x2="87.95" y2="544.80" stroke="#222" stroke-width="0.8"/>
<line x1="112.25" y1="542.00" x2="112.25" y2="544.80" stroke="#222" stroke-width="0.8"/>
<line x1="136.55" y1="542.00" x2="136.55" y2="544.80" stroke="#222" stroke-width="0.8"/>
<line x1="160.85" y1="542.00" x2="160.85" y2="544.80" stroke="#222" stroke-width="0.8"/>
<line x1="185.15" y1="542.00" x2="185.15" y2="544.80" stroke="#222" stroke-width="0.8"/>
<text x="51.50" y="551.80" font-size="6.4" text-anchor="middle" fill="#3a3a3a">0</text>
<text x="75.80" y="551.80" font-size="6.4" text-anchor="middle" fill="#3a3a3a">2</text>
<text x="100.10" y="551.80" font-size="6.4" text-anchor="middle" fill="#3a3a3a">4</text>
<text x="124.40" y="551.80" font-size="6.4" text-anchor="middle" fill="#3a3a3a">6</text>
<text x="148.70" y="551.80" font-size="6.4" text-anchor="middle" fill="#3a3a3a">8</text>
<text x="173.00" y="551.80" font-size="6.4" text-anchor="middle" fill="#3a3a3a">10</text>
<text x="114.20" y="561.80" font-size="8.4" text-anchor="middle" fill="#3a3a3a" textLength="76.5" lengthAdjust="spacingAndGlyphs">Days after first treatment</text>
<text x="18.20" y="454.80" font-size="8.2" text-anchor="middle" fill="#3a3a3a" transform="rotate(-90 18.2 454.8)" textLength="73" lengthAdjust="spacingAndGlyphs">Tumor volume (mm<tspan font-size="5.5" dy="-3">3</tspan><tspan dy="3">)</tspan></text>
<polyline points="51.50,522.02 75.80,515.07 100.10,494.39 124.40,473.52 148.70,456.50 173.00,419.36" fill="none" stroke="#c8102e" stroke-width="1.0"/>
<polyline points="51.50,522.02 75.80,516.89 100.10,509.58 124.40,504.09 148.70,499.14 173.00,496.22" fill="none" stroke="#1a4383" stroke-width="1.0"/>
<line x1="51.50" y1="520.56" x2="51.50" y2="523.48" stroke="#555" stroke-width="0.6"/>
<line x1="50.30" y1="520.56" x2="52.70" y2="520.56" stroke="#555" stroke-width="0.6"/>
<line x1="50.30" y1="523.48" x2="52.70" y2="523.48" stroke="#555" stroke-width="0.6"/>
<circle cx="51.50" cy="522.02" r="3.20" fill="#c8102e"/>
<line x1="75.80" y1="513.24" x2="75.80" y2="516.89" stroke="#555" stroke-width="0.6"/>
<line x1="74.60" y1="513.24" x2="77.00" y2="513.24" stroke="#555" stroke-width="0.6"/>
<line x1="74.60" y1="516.89" x2="77.00" y2="516.89" stroke="#555" stroke-width="0.6"/>
<circle cx="75.80" cy="515.07" r="3.20" fill="#c8102e"/>
<line x1="100.10" y1="492.56" x2="100.10" y2="496.22" stroke="#555" stroke-width="0.6"/>
<line x1="98.90" y1="492.56" x2="101.30" y2="492.56" stroke="#555" stroke-width="0.6"/>
<line x1="98.90" y1="496.22" x2="101.30" y2="496.22" stroke="#555" stroke-width="0.6"/>
<circle cx="100.10" cy="494.39" r="3.20" fill="#c8102e"/>
<line x1="124.40" y1="469.50" x2="124.40" y2="477.55" stroke="#555" stroke-width="0.6"/>
<line x1="123.20" y1="469.50" x2="125.60" y2="469.50" stroke="#555" stroke-width="0.6"/>
<line x1="123.20" y1="477.55" x2="125.60" y2="477.55" stroke="#555" stroke-width="0.6"/>
<circle cx="124.40" cy="473.52" r="3.20" fill="#c8102e"/>
<line x1="148.70" y1="446.44" x2="148.70" y2="466.57" stroke="#555" stroke-width="0.6"/>
<line x1="147.50" y1="446.44" x2="149.90" y2="446.44" stroke="#555" stroke-width="0.6"/>
<line x1="147.50" y1="466.57" x2="149.90" y2="466.57" stroke="#555" stroke-width="0.6"/>
<circle cx="148.70" cy="456.50" r="3.20" fill="#c8102e"/>
<line x1="173.00" y1="404.35" x2="173.00" y2="434.36" stroke="#555" stroke-width="0.6"/>
<line x1="171.80" y1="404.35" x2="174.20" y2="404.35" stroke="#555" stroke-width="0.6"/>
<line x1="171.80" y1="434.36" x2="174.20" y2="434.36" stroke="#555" stroke-width="0.6"/>
<circle cx="173.00" cy="419.36" r="3.20" fill="#c8102e"/>
<line x1="51.50" y1="520.56" x2="51.50" y2="523.48" stroke="#555" stroke-width="0.6"/>
<line x1="50.30" y1="520.56" x2="52.70" y2="520.56" stroke="#555" stroke-width="0.6"/>
<line x1="50.30" y1="523.48" x2="52.70" y2="523.48" stroke="#555" stroke-width="0.6"/>
<circle cx="51.50" cy="522.02" r="3.20" fill="#1a4383"/>
<line x1="75.80" y1="515.43" x2="75.80" y2="518.36" stroke="#555" stroke-width="0.6"/>
<line x1="74.60" y1="515.43" x2="77.00" y2="515.43" stroke="#555" stroke-width="0.6"/>
<line x1="74.60" y1="518.36" x2="77.00" y2="518.36" stroke="#555" stroke-width="0.6"/>
<circle cx="75.80" cy="516.89" r="3.20" fill="#1a4383"/>
<line x1="100.10" y1="505.55" x2="100.10" y2="513.60" stroke="#555" stroke-width="0.6"/>
<line x1="98.90" y1="505.55" x2="101.30" y2="505.55" stroke="#555" stroke-width="0.6"/>
<line x1="98.90" y1="513.60" x2="101.30" y2="513.60" stroke="#555" stroke-width="0.6"/>
<circle cx="100.10" cy="509.58" r="3.20" fill="#1a4383"/>
<line x1="124.40" y1="497.68" x2="124.40" y2="510.49" stroke="#555" stroke-width="0.6"/>
<line x1="123.20" y1="497.68" x2="125.60" y2="497.68" stroke="#555" stroke-width="0.6"/>
<line x1="123.20" y1="510.49" x2="125.60" y2="510.49" stroke="#555" stroke-width="0.6"/>
<circle cx="124.40" cy="504.09" r="3.20" fill="#1a4383"/>
<line x1="148.70" y1="491.46" x2="148.70" y2="506.83" stroke="#555" stroke-width="0.6"/>
<line x1="147.50" y1="491.46" x2="149.90" y2="491.46" stroke="#555" stroke-width="0.6"/>
<line x1="147.50" y1="506.83" x2="149.90" y2="506.83" stroke="#555" stroke-width="0.6"/>
<circle cx="148.70" cy="499.14" r="3.20" fill="#1a4383"/>
<line x1="173.00" y1="487.98" x2="173.00" y2="504.45" stroke="#555" stroke-width="0.6"/>
<line x1="171.80" y1="487.98" x2="174.20" y2="487.98" stroke="#555" stroke-width="0.6"/>
<line x1="171.80" y1="504.45" x2="174.20" y2="504.45" stroke="#555" stroke-width="0.6"/>
<circle cx="173.00" cy="496.22" r="3.20" fill="#1a4383"/>
<text x="100.10" y="506.05" font-size="7" text-anchor="middle" fill="#333">**</text>
<text x="124.40" y="498.18" font-size="7" text-anchor="middle" fill="#333">**</text>
<text x="148.70" y="491.96" font-size="7" text-anchor="middle" fill="#333">**</text>
<text x="173.00" y="488.48" font-size="7" text-anchor="middle" fill="#333">**</text>
<line x1="49.60" y1="404.40" x2="71.20" y2="404.40" stroke="#c8102e" stroke-width="1.0"/>
<circle cx="60.20" cy="404.40" r="3.60" fill="#c8102e"/>
<line x1="49.60" y1="417.90" x2="71.20" y2="417.90" stroke="#1a4383" stroke-width="1.0"/>
<circle cx="60.20" cy="417.90" r="3.60" fill="#1a4383"/>
<text x="75.40" y="406.80" font-size="6.8" text-anchor="start" fill="#333">Vehicle (n = 5)</text>
<text x="75.40" y="420.30" font-size="6.8" text-anchor="start" fill="#333">Pacritinib (n = 5)</text>
<text x="8.20" y="583.80" font-size="12" text-anchor="start" fill="#111" font-weight="bold">E</text>
<line x1="38.80" y1="581.50" x2="38.80" y2="706.60" stroke="#222" stroke-width="0.9"/>
<line x1="35.60" y1="706.20" x2="38.80" y2="706.20" stroke="#222" stroke-width="0.8"/>
<text x="33.60" y="708.60" font-size="6.8" text-anchor="end" fill="#333">0.0</text>
<line x1="35.60" y1="675.54" x2="38.80" y2="675.54" stroke="#222" stroke-width="0.8"/>
<text x="33.60" y="677.94" font-size="6.8" text-anchor="end" fill="#333">0.2</text>
<line x1="35.60" y1="644.88" x2="38.80" y2="644.88" stroke="#222" stroke-width="0.8"/>
<text x="33.60" y="647.28" font-size="6.8" text-anchor="end" fill="#333">0.4</text>
<line x1="35.60" y1="614.22" x2="38.80" y2="614.22" stroke="#222" stroke-width="0.8"/>
<text x="33.60" y="616.62" font-size="6.8" text-anchor="end" fill="#333">0.6</text>
<line x1="35.60" y1="583.56" x2="38.80" y2="583.56" stroke="#222" stroke-width="0.8"/>
<text x="33.60" y="585.96" font-size="6.8" text-anchor="end" fill="#333">0.8</text>
<line x1="38.80" y1="706.60" x2="114.00" y2="706.60" stroke="#222" stroke-width="0.9"/>
<line x1="59.90" y1="706.60" x2="59.90" y2="709.40" stroke="#222" stroke-width="0.8"/>
<line x1="98.20" y1="706.60" x2="98.20" y2="709.40" stroke="#222" stroke-width="0.8"/>
<text x="18.00" y="642.80" font-size="8.2" text-anchor="middle" fill="#3a3a3a" transform="rotate(-90 18.0 642.8)" textLength="56.4" lengthAdjust="spacingAndGlyphs">Tumor weight (g)</text>
<line x1="60.40" y1="584.20" x2="98.80" y2="584.20" stroke="#555" stroke-width="0.7"/>
<line x1="60.40" y1="584.20" x2="60.40" y2="589.50" stroke="#555" stroke-width="0.7"/>
<line x1="98.80" y1="584.20" x2="98.80" y2="654.50" stroke="#555" stroke-width="0.7"/>
<text x="79.80" y="584.00" font-size="7" text-anchor="middle" fill="#333">**</text>
<circle cx="60.40" cy="594.29" r="2.30" fill="#c8102e"/>
<circle cx="57.50" cy="621.88" r="2.30" fill="#c8102e"/>
<circle cx="63.40" cy="624.95" r="2.30" fill="#c8102e"/>
<circle cx="63.90" cy="632.62" r="2.30" fill="#c8102e"/>
<circle cx="57.50" cy="637.22" r="2.30" fill="#c8102e"/>
<line x1="45.80" y1="622.19" x2="75.60" y2="622.19" stroke="#c8102e" stroke-width="0.9"/>
<line x1="53.50" y1="614.99" x2="68.10" y2="614.99" stroke="#c8102e" stroke-width="0.9"/>
<line x1="53.50" y1="629.55" x2="68.10" y2="629.55" stroke="#c8102e" stroke-width="0.9"/>
<line x1="60.80" y1="614.99" x2="60.80" y2="629.55" stroke="#c8102e" stroke-width="0.9"/>
<rect x="96.30" y="662.91" width="3.80" height="3.80" fill="#1a4383"/>
<rect x="101.40" y="670.57" width="3.80" height="3.80" fill="#1a4383"/>
<rect x="91.30" y="673.64" width="3.80" height="3.80" fill="#1a4383"/>
<rect x="96.30" y="673.64" width="3.80" height="3.80" fill="#1a4383"/>
<rect x="96.30" y="684.37" width="3.80" height="3.80" fill="#1a4383"/>
<line x1="83.40" y1="674.77" x2="113.90" y2="674.77" stroke="#2a5ea8" stroke-width="0.9"/>
<line x1="91.60" y1="671.25" x2="105.20" y2="671.25" stroke="#2a5ea8" stroke-width="0.9"/>
<line x1="91.60" y1="677.99" x2="105.20" y2="677.99" stroke="#2a5ea8" stroke-width="0.9"/>
<line x1="98.40" y1="671.25" x2="98.40" y2="677.99" stroke="#2a5ea8" stroke-width="0.9"/>
<circle cx="57.60" cy="716.80" r="2.60" fill="#c8102e"/>
<text x="64.60" y="719.20" font-size="6.8" text-anchor="start" fill="#333">Vehicle</text>
<rect x="55.60" y="724.20" width="4.00" height="4.00" fill="#1a4383"/>
<text x="64.60" y="728.60" font-size="6.8" text-anchor="start" fill="#333">Pacritinib</text>
<text x="127.60" y="583.20" font-size="12" text-anchor="start" fill="#111" font-weight="bold">F</text>
<text x="160.00" y="610.50" font-size="6.8" text-anchor="start" fill="#333" transform="rotate(-90 160.0 610.5)">Vehicle</text>
<text x="189.40" y="610.50" font-size="6.8" text-anchor="start" fill="#333" transform="rotate(-90 189.4 610.5)">Pacritinib</text>
<rect x="127.9" y="615" width="68.1" height="99.3" fill="url(#photo)"/>
<rect x="128" y="614.7" width="11" height="14" fill="#cdd4d8" filter="url(#blur05)"/>
<rect x="128.5" y="615.5" width="7.5" height="11" fill="#f4f6f7"/>
<circle cx="156.9" cy="628.8" r="4.3" fill="url(#tum)"/>
<circle cx="155.4" cy="647.4" r="4.5" fill="url(#tum)"/>
<circle cx="154.7" cy="665.8" r="4.6" fill="url(#tum)"/>
<circle cx="155.4" cy="684.6" r="4.3" fill="url(#tum)"/>
<circle cx="156.6" cy="707.8" r="4.8" fill="url(#tum)"/>
<circle cx="187.0" cy="627.4" r="3.2" fill="url(#tum)"/>
<circle cx="187.3" cy="646.2" r="3.5" fill="url(#tum)"/>
<circle cx="187.0" cy="665.8" r="3.4" fill="url(#tum)"/>
<circle cx="187.0" cy="684.6" r="3.3" fill="url(#tum)"/>
<circle cx="187.0" cy="709.3" r="3.8" fill="url(#tum)"/>
<text x="197.40" y="375.00" font-size="12" text-anchor="start" fill="#111" font-weight="bold">G</text>
<rect x="208.6" y="381.6" width="304.2" height="356" fill="#fff" stroke="#4a4a4a" stroke-width="1.3"/>
<text x="218.60" y="428.60" font-size="6.6" text-anchor="start" fill="#555" textLength="36" lengthAdjust="spacingAndGlyphs">Extracellular</text>
<text x="218.40" y="480.00" font-size="6.6" text-anchor="start" fill="#555" textLength="23" lengthAdjust="spacingAndGlyphs">Cytosol</text>
<text x="465.60" y="400.60" font-size="8.4" text-anchor="middle" fill="#2d5a9e">ALK<tspan font-size="5.5" dy="-3">&#8722;</tspan></text>
<text x="465.50" y="410.80" font-size="8.4" text-anchor="middle" fill="#2d5a9e" textLength="32.5" lengthAdjust="spacingAndGlyphs">pC ALCL</text>
<path d="M212.20,440.5 L216.50,450.2 M215.40,440.5 L211.10,450.2" stroke="#6e4e26" stroke-width="1.25" fill="none"/>
<path d="M212.20,462.0 L216.50,452.3 M215.40,462.0 L211.10,452.3" stroke="#6e4e26" stroke-width="1.25" fill="none"/>
<path d="M221.06,440.5 L225.36,450.2 M224.26,440.5 L219.96,450.2" stroke="#6e4e26" stroke-width="1.25" fill="none"/>
<path d="M221.06,462.0 L225.36,452.3 M224.26,462.0 L219.96,452.3" stroke="#6e4e26" stroke-width="1.25" fill="none"/>
<path d="M229.92,440.5 L234.22,450.2 M233.12,440.5 L228.82,450.2" stroke="#6e4e26" stroke-width="1.25" fill="none"/>
<path d="M229.92,462.0 L234.22,452.3 M233.12,462.0 L228.82,452.3" stroke="#6e4e26" stroke-width="1.25" fill="none"/>
<path d="M238.78,440.5 L243.08,450.2 M241.98,440.5 L237.68,450.2" stroke="#6e4e26" stroke-width="1.25" fill="none"/>
<path d="M238.78,462.0 L243.08,452.3 M241.98,462.0 L237.68,452.3" stroke="#6e4e26" stroke-width="1.25" fill="none"/>
<path d="M247.64,440.5 L251.94,450.2 M250.84,440.5 L246.54,450.2" stroke="#6e4e26" stroke-width="1.25" fill="none"/>
<path d="M247.64,462.0 L251.94,452.3 M250.84,462.0 L246.54,452.3" stroke="#6e4e26" stroke-width="1.25" fill="none"/>
<path d="M256.50,440.5 L260.80,450.2 M259.70,440.5 L255.40,450.2" stroke="#6e4e26" stroke-width="1.25" fill="none"/>
<path d="M256.50,462.0 L260.80,452.3 M259.70,462.0 L255.40,452.3" stroke="#6e4e26" stroke-width="1.25" fill="none"/>
<path d="M265.36,440.5 L269.66,450.2 M268.56,440.5 L264.26,450.2" stroke="#6e4e26" stroke-width="1.25" fill="none"/>
<path d="M265.36,462.0 L269.66,452.3 M268.56,462.0 L264.26,452.3" stroke="#6e4e26" stroke-width="1.25" fill="none"/>
<path d="M274.22,440.5 L278.52,450.2 M277.42,440.5 L273.12,450.2" stroke="#6e4e26" stroke-width="1.25" fill="none"/>
<path d="M274.22,462.0 L278.52,452.3 M277.42,462.0 L273.12,452.3" stroke="#6e4e26" stroke-width="1.25" fill="none"/>
<path d="M283.08,440.5 L287.38,450.2 M286.28,440.5 L281.98,450.2" stroke="#6e4e26" stroke-width="1.25" fill="none"/>
<path d="M283.08,462.0 L287.38,452.3 M286.28,462.0 L281.98,452.3" stroke="#6e4e26" stroke-width="1.25" fill="none"/>
<path d="M291.94,440.5 L296.24,450.2 M295.14,440.5 L290.84,450.2" stroke="#6e4e26" stroke-width="1.25" fill="none"/>
<path d="M291.94,462.0 L296.24,452.3 M295.14,462.0 L290.84,452.3" stroke="#6e4e26" stroke-width="1.25" fill="none"/>
<path d="M300.80,440.5 L305.10,450.2 M304.00,440.5 L299.70,450.2" stroke="#6e4e26" stroke-width="1.25" fill="none"/>
<path d="M300.80,462.0 L305.10,452.3 M304.00,462.0 L299.70,452.3" stroke="#6e4e26" stroke-width="1.25" fill="none"/>
<path d="M309.66,440.5 L313.96,450.2 M312.86,440.5 L308.56,450.2" stroke="#6e4e26" stroke-width="1.25" fill="none"/>
<path d="M309.66,462.0 L313.96,452.3 M312.86,462.0 L308.56,452.3" stroke="#6e4e26" stroke-width="1.25" fill="none"/>
<path d="M318.52,440.5 L322.82,450.2 M321.72,440.5 L317.42,450.2" stroke="#6e4e26" stroke-width="1.25" fill="none"/>
<path d="M318.52,462.0 L322.82,452.3 M321.72,462.0 L317.42,452.3" stroke="#6e4e26" stroke-width="1.25" fill="none"/>
<path d="M327.38,440.5 L331.68,450.2 M330.58,440.5 L326.28,450.2" stroke="#6e4e26" stroke-width="1.25" fill="none"/>
<path d="M327.38,462.0 L331.68,452.3 M330.58,462.0 L326.28,452.3" stroke="#6e4e26" stroke-width="1.25" fill="none"/>
<path d="M336.24,440.5 L340.54,450.2 M339.44,440.5 L335.14,450.2" stroke="#6e4e26" stroke-width="1.25" fill="none"/>
<path d="M336.24,462.0 L340.54,452.3 M339.44,462.0 L335.14,452.3" stroke="#6e4e26" stroke-width="1.25" fill="none"/>
<path d="M345.10,440.5 L349.40,450.2 M348.30,440.5 L344.00,450.2" stroke="#6e4e26" stroke-width="1.25" fill="none"/>
<path d="M345.10,462.0 L349.40,452.3 M348.30,462.0 L344.00,452.3" stroke="#6e4e26" stroke-width="1.25" fill="none"/>
<path d="M353.96,440.5 L358.26,450.2 M357.16,440.5 L352.86,450.2" stroke="#6e4e26" stroke-width="1.25" fill="none"/>
<path d="M353.96,462.0 L358.26,452.3 M357.16,462.0 L352.86,452.3" stroke="#6e4e26" stroke-width="1.25" fill="none"/>
<path d="M362.82,440.5 L367.12,450.2 M366.02,440.5 L361.72,450.2" stroke="#6e4e26" stroke-width="1.25" fill="none"/>
<path d="M362.82,462.0 L367.12,452.3 M366.02,462.0 L361.72,452.3" stroke="#6e4e26" stroke-width="1.25" fill="none"/>
<path d="M371.68,440.5 L375.98,450.2 M374.88,440.5 L370.58,450.2" stroke="#6e4e26" stroke-width="1.25" fill="none"/>
<path d="M371.68,462.0 L375.98,452.3 M374.88,462.0 L370.58,452.3" stroke="#6e4e26" stroke-width="1.25" fill="none"/>
<path d="M380.54,440.5 L384.84,450.2 M383.74,440.5 L379.44,450.2" stroke="#6e4e26" stroke-width="1.25" fill="none"/>
<path d="M380.54,462.0 L384.84,452.3 M383.74,462.0 L379.44,452.3" stroke="#6e4e26" stroke-width="1.25" fill="none"/>
<path d="M389.40,440.5 L393.70,450.2 M392.60,440.5 L388.30,450.2" stroke="#6e4e26" stroke-width="1.25" fill="none"/>
<path d="M389.40,462.0 L393.70,452.3 M392.60,462.0 L388.30,452.3" stroke="#6e4e26" stroke-width="1.25" fill="none"/>
<path d="M398.26,440.5 L402.56,450.2 M401.46,440.5 L397.16,450.2" stroke="#6e4e26" stroke-width="1.25" fill="none"/>
<path d="M398.26,462.0 L402.56,452.3 M401.46,462.0 L397.16,452.3" stroke="#6e4e26" stroke-width="1.25" fill="none"/>
<path d="M407.12,440.5 L411.42,450.2 M410.32,440.5 L406.02,450.2" stroke="#6e4e26" stroke-width="1.25" fill="none"/>
<path d="M407.12,462.0 L411.42,452.3 M410.32,462.0 L406.02,452.3" stroke="#6e4e26" stroke-width="1.25" fill="none"/>
<path d="M415.98,440.5 L420.28,450.2 M419.18,440.5 L414.88,450.2" stroke="#6e4e26" stroke-width="1.25" fill="none"/>
<path d="M415.98,462.0 L420.28,452.3 M419.18,462.0 L414.88,452.3" stroke="#6e4e26" stroke-width="1.25" fill="none"/>
<path d="M424.84,440.5 L429.14,450.2 M428.04,440.5 L423.74,450.2" stroke="#6e4e26" stroke-width="1.25" fill="none"/>
<path d="M424.84,462.0 L429.14,452.3 M428.04,462.0 L423.74,452.3" stroke="#6e4e26" stroke-width="1.25" fill="none"/>
<path d="M433.70,440.5 L438.00,450.2 M436.90,440.5 L432.60,450.2" stroke="#6e4e26" stroke-width="1.25" fill="none"/>
<path d="M433.70,462.0 L438.00,452.3 M436.90,462.0 L432.60,452.3" stroke="#6e4e26" stroke-width="1.25" fill="none"/>
<path d="M442.56,440.5 L446.86,450.2 M445.76,440.5 L441.46,450.2" stroke="#6e4e26" stroke-width="1.25" fill="none"/>
<path d="M442.56,462.0 L446.86,452.3 M445.76,462.0 L441.46,452.3" stroke="#6e4e26" stroke-width="1.25" fill="none"/>
<path d="M451.42,440.5 L455.72,450.2 M454.62,440.5 L450.32,450.2" stroke="#6e4e26" stroke-width="1.25" fill="none"/>
<path d="M451.42,462.0 L455.72,452.3 M454.62,462.0 L450.32,452.3" stroke="#6e4e26" stroke-width="1.25" fill="none"/>
<path d="M460.28,440.5 L464.58,450.2 M463.48,440.5 L459.18,450.2" stroke="#6e4e26" stroke-width="1.25" fill="none"/>
<path d="M460.28,462.0 L464.58,452.3 M463.48,462.0 L459.18,452.3" stroke="#6e4e26" stroke-width="1.25" fill="none"/>
<path d="M469.14,440.5 L473.44,450.2 M472.34,440.5 L468.04,450.2" stroke="#6e4e26" stroke-width="1.25" fill="none"/>
<path d="M469.14,462.0 L473.44,452.3 M472.34,462.0 L468.04,452.3" stroke="#6e4e26" stroke-width="1.25" fill="none"/>
<path d="M478.00,440.5 L482.30,450.2 M481.20,440.5 L476.90,450.2" stroke="#6e4e26" stroke-width="1.25" fill="none"/>
<path d="M478.00,462.0 L482.30,452.3 M481.20,462.0 L476.90,452.3" stroke="#6e4e26" stroke-width="1.25" fill="none"/>
<path d="M486.86,440.5 L491.16,450.2 M490.06,440.5 L485.76,450.2" stroke="#6e4e26" stroke-width="1.25" fill="none"/>
<path d="M486.86,462.0 L491.16,452.3 M490.06,462.0 L485.76,452.3" stroke="#6e4e26" stroke-width="1.25" fill="none"/>
<path d="M495.72,440.5 L500.02,450.2 M498.92,440.5 L494.62,450.2" stroke="#6e4e26" stroke-width="1.25" fill="none"/>
<path d="M495.72,462.0 L500.02,452.3 M498.92,462.0 L494.62,452.3" stroke="#6e4e26" stroke-width="1.25" fill="none"/>
<path d="M504.58,440.5 L508.88,450.2 M507.78,440.5 L503.48,450.2" stroke="#6e4e26" stroke-width="1.25" fill="none"/>
<path d="M504.58,462.0 L508.88,452.3 M507.78,462.0 L503.48,452.3" stroke="#6e4e26" stroke-width="1.25" fill="none"/>
<circle cx="213.80" cy="436.8" r="4.4" fill="url(#head)"/>
<circle cx="213.80" cy="465.7" r="4.4" fill="url(#head)"/>
<circle cx="222.66" cy="436.8" r="4.4" fill="url(#head)"/>
<circle cx="222.66" cy="465.7" r="4.4" fill="url(#head)"/>
<circle cx="231.52" cy="436.8" r="4.4" fill="url(#head)"/>
<circle cx="231.52" cy="465.7" r="4.4" fill="url(#head)"/>
<circle cx="240.38" cy="436.8" r="4.4" fill="url(#head)"/>
<circle cx="240.38" cy="465.7" r="4.4" fill="url(#head)"/>
<circle cx="249.24" cy="436.8" r="4.4" fill="url(#head)"/>
<circle cx="249.24" cy="465.7" r="4.4" fill="url(#head)"/>
<circle cx="258.10" cy="436.8" r="4.4" fill="url(#head)"/>
<circle cx="258.10" cy="465.7" r="4.4" fill="url(#head)"/>
<circle cx="266.96" cy="436.8" r="4.4" fill="url(#head)"/>
<circle cx="266.96" cy="465.7" r="4.4" fill="url(#head)"/>
<circle cx="275.82" cy="436.8" r="4.4" fill="url(#head)"/>
<circle cx="275.82" cy="465.7" r="4.4" fill="url(#head)"/>
<circle cx="284.68" cy="436.8" r="4.4" fill="url(#head)"/>
<circle cx="284.68" cy="465.7" r="4.4" fill="url(#head)"/>
<circle cx="293.54" cy="436.8" r="4.4" fill="url(#head)"/>
<circle cx="293.54" cy="465.7" r="4.4" fill="url(#head)"/>
<circle cx="302.40" cy="436.8" r="4.4" fill="url(#head)"/>
<circle cx="302.40" cy="465.7" r="4.4" fill="url(#head)"/>
<circle cx="311.26" cy="436.8" r="4.4" fill="url(#head)"/>
<circle cx="311.26" cy="465.7" r="4.4" fill="url(#head)"/>
<circle cx="320.12" cy="436.8" r="4.4" fill="url(#head)"/>
<circle cx="320.12" cy="465.7" r="4.4" fill="url(#head)"/>
<circle cx="328.98" cy="436.8" r="4.4" fill="url(#head)"/>
<circle cx="328.98" cy="465.7" r="4.4" fill="url(#head)"/>
<circle cx="337.84" cy="436.8" r="4.4" fill="url(#head)"/>
<circle cx="337.84" cy="465.7" r="4.4" fill="url(#head)"/>
<circle cx="346.70" cy="436.8" r="4.4" fill="url(#head)"/>
<circle cx="346.70" cy="465.7" r="4.4" fill="url(#head)"/>
<circle cx="355.56" cy="436.8" r="4.4" fill="url(#head)"/>
<circle cx="355.56" cy="465.7" r="4.4" fill="url(#head)"/>
<circle cx="364.42" cy="436.8" r="4.4" fill="url(#head)"/>
<circle cx="364.42" cy="465.7" r="4.4" fill="url(#head)"/>
<circle cx="373.28" cy="436.8" r="4.4" fill="url(#head)"/>
<circle cx="373.28" cy="465.7" r="4.4" fill="url(#head)"/>
<circle cx="382.14" cy="436.8" r="4.4" fill="url(#head)"/>
<circle cx="382.14" cy="465.7" r="4.4" fill="url(#head)"/>
<circle cx="391.00" cy="436.8" r="4.4" fill="url(#head)"/>
<circle cx="391.00" cy="465.7" r="4.4" fill="url(#head)"/>
<circle cx="399.86" cy="436.8" r="4.4" fill="url(#head)"/>
<circle cx="399.86" cy="465.7" r="4.4" fill="url(#head)"/>
<circle cx="408.72" cy="436.8" r="4.4" fill="url(#head)"/>
<circle cx="408.72" cy="465.7" r="4.4" fill="url(#head)"/>
<circle cx="417.58" cy="436.8" r="4.4" fill="url(#head)"/>
<circle cx="417.58" cy="465.7" r="4.4" fill="url(#head)"/>
<circle cx="426.44" cy="436.8" r="4.4" fill="url(#head)"/>
<circle cx="426.44" cy="465.7" r="4.4" fill="url(#head)"/>
<circle cx="435.30" cy="436.8" r="4.4" fill="url(#head)"/>
<circle cx="435.30" cy="465.7" r="4.4" fill="url(#head)"/>
<circle cx="444.16" cy="436.8" r="4.4" fill="url(#head)"/>
<circle cx="444.16" cy="465.7" r="4.4" fill="url(#head)"/>
<circle cx="453.02" cy="436.8" r="4.4" fill="url(#head)"/>
<circle cx="453.02" cy="465.7" r="4.4" fill="url(#head)"/>
<circle cx="461.88" cy="436.8" r="4.4" fill="url(#head)"/>
<circle cx="461.88" cy="465.7" r="4.4" fill="url(#head)"/>
<circle cx="470.74" cy="436.8" r="4.4" fill="url(#head)"/>
<circle cx="470.74" cy="465.7" r="4.4" fill="url(#head)"/>
<circle cx="479.60" cy="436.8" r="4.4" fill="url(#head)"/>
<circle cx="479.60" cy="465.7" r="4.4" fill="url(#head)"/>
<circle cx="488.46" cy="436.8" r="4.4" fill="url(#head)"/>
<circle cx="488.46" cy="465.7" r="4.4" fill="url(#head)"/>
<circle cx="497.32" cy="436.8" r="4.4" fill="url(#head)"/>
<circle cx="497.32" cy="465.7" r="4.4" fill="url(#head)"/>
<circle cx="506.18" cy="436.8" r="4.4" fill="url(#head)"/>
<circle cx="506.18" cy="465.7" r="4.4" fill="url(#head)"/>
<rect x="302.40" y="404.50" width="17.80" height="69.10" rx="8.90" ry="17.00" fill="url(#rec)"/>
<rect x="345.80" y="403.50" width="18.40" height="68.50" rx="9.20" ry="17.00" fill="url(#rec)"/>
<rect x="318.80" y="399.80" width="15.40" height="80.40" rx="7.70" ry="17.00" fill="url(#rec)"/>
<rect x="332.30" y="403.50" width="15.30" height="76.70" rx="7.65" ry="17.00" fill="url(#rec)"/>
<text x="311.50" y="441.50" font-size="6.4" text-anchor="middle" fill="#555" transform="rotate(-90 311.5 441.5)">IL1R1</text>
<text x="326.70" y="440.50" font-size="6.4" text-anchor="middle" fill="#555" transform="rotate(-90 326.7 440.5)">IL1RAP</text>
<text x="342.10" y="441.50" font-size="6.4" text-anchor="middle" fill="#555" transform="rotate(-90 342.1 441.5)">IL1R1</text>
<text x="355.20" y="440.50" font-size="6.4" text-anchor="middle" fill="#555" transform="rotate(-90 355.2 440.5)">IL1RAP</text>
<polygon points="305.90,383.50 317.90,389.85 317.90,402.55 305.90,408.90 293.90,402.55 293.90,389.85" fill="#cddc1e"/>
<text x="305.90" y="398.60" font-size="6.8" text-anchor="middle" fill="#2a2a2a">IL-1&#945;</text>
<polygon points="345.60,383.50 357.60,389.85 357.60,402.55 345.60,408.90 333.60,402.55 333.60,389.85" fill="#cddc1e"/>
<text x="345.60" y="398.60" font-size="6.8" text-anchor="middle" fill="#2a2a2a">IL-1&#945;</text>
<polygon points="369.20,391.90 381.20,398.25 381.20,410.95 369.20,417.30 357.20,410.95 357.20,398.25" fill="#cddc1e"/>
<text x="369.20" y="407.00" font-size="6.8" text-anchor="middle" fill="#2a2a2a">IL-1&#945;</text>
<rect x="300.2" y="474.6" width="22.6" height="45" rx="2.5" fill="url(#myd)"/>
<rect x="348.3" y="472.6" width="22.2" height="44" rx="2.5" fill="url(#myd)"/>
<text x="311.50" y="497.00" font-size="6.4" text-anchor="middle" fill="#1a2a55" transform="rotate(90 311.5 497)">MYD88</text>
<text x="359.40" y="494.60" font-size="6.4" text-anchor="middle" fill="#1a2a55" transform="rotate(90 359.4 494.6)">MYD88</text>
<ellipse cx="289.60" cy="495.90" rx="11.80" ry="22.80" fill="#86c440"/>
<ellipse cx="380.40" cy="494.40" rx="10.20" ry="22.00" fill="#86c440"/>
<text x="290.00" y="495.90" font-size="6.2" text-anchor="middle" fill="#3a4a20" transform="rotate(90 290 495.9)">IRAK1</text>
<text x="380.60" y="494.40" font-size="6.2" text-anchor="middle" fill="#3a4a20" transform="rotate(90 380.6 494.4)">IRAK1</text>
<circle cx="278.10" cy="510.80" r="4.30" fill="#86c440" stroke="#fff" stroke-width="0.5"/>
<text x="278.10" y="512.90" font-size="5.6" text-anchor="middle" fill="#333">P</text>
<circle cx="391.20" cy="509.20" r="4.20" fill="#86c440" stroke="#fff" stroke-width="0.5"/>
<text x="391.20" y="511.30" font-size="5.6" text-anchor="middle" fill="#333">P</text>
<ellipse cx="301.00" cy="532.00" rx="28.00" ry="12.00" fill="url(#rnf)"/>
<text x="301.00" y="531.00" font-size="6.6" text-anchor="middle" fill="#444">RNF31</text>
<text x="301.00" y="538.60" font-size="6.6" text-anchor="middle" fill="#444">(LUBAC)</text>
<path d="M322.5,517.5 C330,512 341,512 345.2,522" fill="none" stroke="#111" stroke-width="0.9"/>
<polygon points="345.9,525.2 342.6,520.6 347.4,520.0" fill="#111"/>
<circle cx="331.90" cy="532.50" r="4.15" fill="#e2321e" stroke="#9a1a10" stroke-width="0.6"/>
<text x="331.90" y="533.80" font-size="3.6" text-anchor="middle" fill="#fbd">M1</text>
<circle cx="340.00" cy="531.90" r="4.15" fill="#e2321e" stroke="#9a1a10" stroke-width="0.6"/>
<text x="340.00" y="533.20" font-size="3.6" text-anchor="middle" fill="#fbd">M1</text>
<circle cx="348.75" cy="529.75" r="4.15" fill="#e2321e" stroke="#9a1a10" stroke-width="0.6"/>
<text x="348.75" y="531.05" font-size="3.6" text-anchor="middle" fill="#fbd">M1</text>
<circle cx="357.25" cy="528.10" r="4.15" fill="#e2321e" stroke="#9a1a10" stroke-width="0.6"/>
<text x="357.25" y="529.40" font-size="3.6" text-anchor="middle" fill="#fbd">M1</text>
<circle cx="365.60" cy="525.60" r="4.15" fill="#e2321e" stroke="#9a1a10" stroke-width="0.6"/>
<text x="365.60" y="526.90" font-size="3.6" text-anchor="middle" fill="#fbd">M1</text>
<rect x="325" y="537.5" width="53.8" height="11.5" rx="4" fill="#5ebfcc"/>
<text x="351.50" y="546.00" font-size="6.8" text-anchor="middle" fill="#e8fbff">NEMO/IKK&#947;</text>
<ellipse cx="338.70" cy="555.80" rx="13.10" ry="8.00" fill="#0e6a6c"/>
<ellipse cx="365.60" cy="555.80" rx="13.70" ry="8.00" fill="#0e6a6c"/>
<text x="338.70" y="558.20" font-size="6.4" text-anchor="middle" fill="#cfe">IKK&#946;</text>
<text x="365.60" y="558.20" font-size="6.4" text-anchor="middle" fill="#cfe">IKK&#945;</text>
<circle cx="319.60" cy="555.40" r="4.90" fill="#f3e60f" stroke="#222" stroke-width="0.6"/>
<text x="319.60" y="557.60" font-size="6" text-anchor="middle" fill="#222">P</text>
<polygon points="273.80,557.60 264.59,559.83 272.58,563.91 262.90,564.11 269.04,569.71 259.67,567.87 263.45,574.53 255.15,570.79 256.26,577.98 249.72,572.64 248.07,579.77 243.80,573.28 239.53,579.77 237.88,572.64 231.34,577.98 232.45,570.79 224.15,574.53 227.93,567.87 218.56,569.71 224.70,564.11 215.02,563.91 223.01,559.83 213.80,557.60 223.01,555.37 215.02,551.29 224.70,551.09 218.56,545.49 227.93,547.33 224.15,540.67 232.45,544.41 231.34,537.22 237.88,542.56 239.53,535.43 243.80,541.92 248.07,535.43 249.72,542.56 256.26,537.22 255.15,544.41 263.45,540.67 259.67,547.33 269.04,545.49 262.90,551.09 272.58,551.29 264.59,555.37" fill="#fff" stroke="#e3302a" stroke-width="0.9" stroke-linejoin="miter"/>
<g transform="translate(244.60 557.40) rotate(-16)">
<rect x="-21.00" y="-5.15" width="38.00" height="15.50" fill="#3a2c8a"/>
<rect x="-19.00" y="-7.75" width="38.00" height="15.00" fill="url(#a20g)"/>
<text x="-2" y="2.6" font-size="7" text-anchor="middle" fill="#333">A20<tspan font-size="4.6" dy="-3">mut</tspan></text>
</g>
<polygon points="487.50,638.00 478.77,640.12 486.46,643.85 477.29,644.23 483.41,649.30 474.42,647.91 478.57,653.98 470.37,650.91 472.25,657.57 465.40,653.03 464.89,659.83 459.87,654.13 457.00,660.60 454.13,654.13 449.11,659.83 448.60,653.03 441.75,657.57 443.63,650.91 435.43,653.98 439.58,647.91 430.59,649.30 436.71,644.23 427.54,643.85 435.23,640.12 426.50,638.00 435.23,635.88 427.54,632.15 436.71,631.77 430.59,626.70 439.58,628.09 435.43,622.02 443.63,625.09 441.75,618.43 448.60,622.97 449.11,616.17 454.13,621.87 457.00,615.40 459.87,621.87 464.89,616.17 465.40,622.97 472.25,618.43 470.37,625.09 478.57,622.02 474.42,628.09 483.41,626.70 477.29,631.77 486.46,632.15 478.77,635.88" fill="#fff" stroke="#e3302a" stroke-width="0.9" stroke-linejoin="miter"/>
<g transform="translate(457.00 636.60) rotate(-16.3)">
<rect x="-21.00" y="-5.15" width="38.00" height="15.50" fill="#3a2c8a"/>
<rect x="-19.00" y="-7.75" width="38.00" height="15.00" fill="url(#jakg)"/>
<text x="-2" y="2.6" font-size="7" text-anchor="middle" fill="#333">JAK<tspan font-size="4.6" dy="-3">mut</tspan></text>
</g>
<line x1="277.50" y1="552.80" x2="301.30" y2="552.80" stroke="#35358f" stroke-width="1.0"/>
<polygon points="305.50,552.80 301.30,554.80 301.30,550.80" fill="#35358f"/>
<line x1="319.20" y1="568.00" x2="299.66" y2="581.42" stroke="#111" stroke-width="0.9"/>
<polygon points="296.20,583.80 298.53,579.77 300.79,583.07" fill="#111"/>
<line x1="344.20" y1="568.00" x2="358.56" y2="582.60" stroke="#111" stroke-width="0.9"/>
<polygon points="361.50,585.60 357.13,584.01 359.98,581.20" fill="#111"/>
<rect x="255.8" y="588.5" width="48.8" height="29.5" fill="#f1f1f1" stroke="#bbb" stroke-width="0.8"/>
<text x="280.20" y="603.00" font-size="6.8" text-anchor="middle" fill="#333">NF-&#954;B</text>
<text x="280.20" y="610.60" font-size="6.8" text-anchor="middle" fill="#333">pathway</text>
<rect x="328" y="590.4" width="92.2" height="26.2" rx="9" fill="#c69a62"/>
<text x="374.10" y="601.60" font-size="6.8" text-anchor="middle" fill="#fbeede">proinflammatory</text>
<text x="374.10" y="609.60" font-size="6.8" text-anchor="middle" fill="#fbeede">cytokines</text>
<line x1="279.00" y1="618.20" x2="279.00" y2="633.60" stroke="#111" stroke-width="0.9"/>
<polygon points="279.00,637.80 277.00,633.60 281.00,633.60" fill="#111"/>
<path d="M262,639.2 L300.5,639.2 Q309.5,639.2 310.8,648 Q312.8,665.2 310.8,682.4 Q309.5,691.2 300.5,691.2 L262,691.2 Q253,691.2 251.7,682.4 Q249.7,665.2 251.7,648 Q253,639.2 262,639.2 Z" fill="#4cb648"/>
<text x="281.30" y="655.20" font-size="6.8" text-anchor="middle" fill="#f0fff0">Survival</text>
<text x="281.30" y="663.80" font-size="6.8" text-anchor="middle" fill="#f0fff0">genes</text>
<text x="281.30" y="672.40" font-size="6.8" text-anchor="middle" fill="#f0fff0">(<tspan font-style="italic">cIAP</tspan>,</text>
<text x="281.30" y="681.00" font-size="6.8" text-anchor="middle" fill="#f0fff0"><tspan font-style="italic">cFLAR</tspan>)</text>
<line x1="279.00" y1="691.40" x2="279.00" y2="708.80" stroke="#111" stroke-width="0.9"/>
<polygon points="279.00,713.00 277.00,708.80 281.00,708.80" fill="#111"/>
<rect x="248.3" y="714" width="61.3" height="20" rx="6" fill="#ef5b1c"/>
<text x="279.00" y="726.40" font-size="6.8" text-anchor="middle" fill="#fff1e8">Survival</text>
<line x1="374.80" y1="616.80" x2="374.80" y2="632.00" stroke="#111" stroke-width="0.9"/>
<polygon points="374.80,636.20 372.80,632.00 376.80,632.00" fill="#111"/>
<rect x="323.5" y="636.6" width="101.2" height="15.3" fill="#e2e2e2" stroke="#555" stroke-width="0.9"/>
<text x="374.10" y="647.00" font-size="7.0" text-anchor="middle" fill="#333">JAK-STAT pathway</text>
<line x1="374.80" y1="652.00" x2="374.80" y2="665.30" stroke="#111" stroke-width="0.9"/>
<polygon points="374.80,669.50 372.80,665.30 376.80,665.30" fill="#111"/>
<line x1="342.30" y1="690.50" x2="320.94" y2="709.42" stroke="#111" stroke-width="0.9"/>
<polygon points="317.80,712.20 319.62,707.92 322.27,710.91" fill="#111"/>
<line x1="398.80" y1="697.00" x2="419.80" y2="697.00" stroke="#111" stroke-width="0.9"/>
<polygon points="424.00,697.00 419.80,699.00 419.80,695.00" fill="#111"/>
<circle cx="351.20" cy="677.40" r="4.20" fill="#c8185a"/>
<circle cx="395.00" cy="676.30" r="4.20" fill="#c8185a"/>
<ellipse cx="359.90" cy="697.50" rx="12.00" ry="26.00" fill="url(#stat)"/>
<ellipse cx="385.60" cy="697.50" rx="13.00" ry="26.00" fill="url(#stat)"/>
<text x="362.30" y="697.50" font-size="6.4" text-anchor="middle" fill="#333" transform="rotate(-90 362.3 697.5)">STAT3 (wt)</text>
<text x="388.00" y="697.50" font-size="6.4" text-anchor="middle" fill="#333" transform="rotate(-90 388.0 697.5)">STAT3 (wt)</text>
<rect x="426.8" y="675.4" width="83" height="55.8" rx="14" fill="#ef5b1c"/>
<text x="468.30" y="694.00" font-size="6.8" text-anchor="middle" fill="#ffe6d6">IL1R1 &amp; IL1RAP</text>
<text x="468.30" y="702.20" font-size="6.8" text-anchor="middle" fill="#ffe6d6">expression</text>
<text x="468.30" y="710.40" font-size="6.8" text-anchor="middle" fill="#ffe6d6">(feed-forward</text>
<text x="468.30" y="718.60" font-size="6.8" text-anchor="middle" fill="#ffe6d6">loop)</text>
<rect x="435.2" y="535.8" width="74.6" height="36.4" fill="#edf1ee" stroke="#a9d2ac" stroke-width="0.8"/>
<text x="472.50" y="549.60" font-size="6.8" text-anchor="middle" fill="#d8403a">Pacritinib</text>
<text x="472.50" y="556.80" font-size="6.8" text-anchor="middle" fill="#d8403a">(JAK2/IRAK1</text>
<text x="472.50" y="564.00" font-size="6.8" text-anchor="middle" fill="#d8403a">dual inhibitor)</text>
<line x1="435.20" y1="534.80" x2="405.60" y2="511.50" stroke="#d8403a" stroke-width="0.9"/>
<line x1="409.60" y1="506.60" x2="401.60" y2="516.40" stroke="#d8403a" stroke-width="1.0"/>
<line x1="453.30" y1="572.20" x2="444.60" y2="613.60" stroke="#d8403a" stroke-width="0.9"/>
<line x1="437.20" y1="612.20" x2="451.40" y2="615.20" stroke="#d8403a" stroke-width="1.0"/>
<line x1="426.50" y1="632.50" x2="394.56" y2="627.81" stroke="#35358f" stroke-width="1.0"/>
<polygon points="390.40,627.20 394.85,625.83 394.26,629.79" fill="#35358f"/>
<rect x="0.5" y="0.5" width="519" height="744" fill="none" stroke="#505050" stroke-width="1"/>
</svg>
</body></html>
